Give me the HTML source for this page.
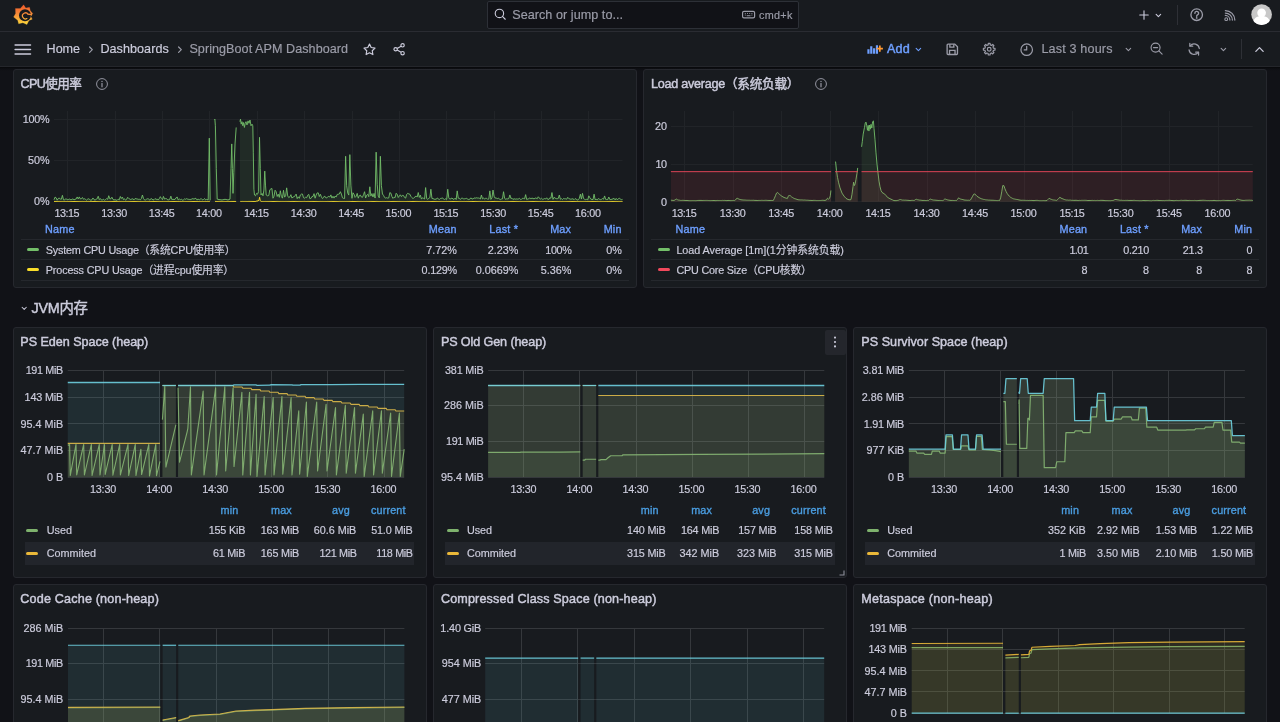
<!DOCTYPE html>
<html lang="zh"><head><meta charset="utf-8"><title>SpringBoot APM Dashboard - Grafana</title>
<style>
html,body{margin:0;padding:0}
body{width:1280px;height:722px;overflow:hidden;background:#111217;position:relative;font-family:"Liberation Sans","Noto Sans CJK SC",sans-serif;color:#ccccdc}
#root{position:absolute;left:0;top:0;width:1280px;height:722px;will-change:transform}
.t{position:absolute;white-space:nowrap}
.ic{position:absolute;overflow:visible}
.bar{position:absolute;left:0;width:1280px;background:#181b1f}
.hl{position:absolute;left:0;width:1280px;height:1px;background:#2a2c32}
.panel{position:absolute;box-sizing:border-box;background:#181b1f;border:1px solid #26282e;border-radius:3px}
svg text{font-family:"Liberation Sans","Noto Sans CJK SC",sans-serif}
</style></head>
<body>
<div id="root">
<div class="bar" style="top:0;height:31px"></div>
<div class="bar" style="top:32px;height:34px"></div>
<div class="hl" style="top:31px"></div><div class="hl" style="top:66px;background:#24262b"></div><div class="hl" style="top:67px;height:4px;background:linear-gradient(#07080a,#0d0e12 40%,#111217)"></div>
<svg class="ic" style="left:11px;top:2px" width="24" height="26" viewBox="0 0 666 722" ><defs><linearGradient id="lg" gradientUnits="userSpaceOnUse" x1="0" y1="80" x2="0" y2="625"><stop offset="0" stop-color="#f1592a"/><stop offset="0.5" stop-color="#f7903a"/><stop offset="1" stop-color="#fbd83a"/></linearGradient></defs>
<path fill="url(#lg)" stroke="url(#lg)" stroke-width="6" stroke-linejoin="round" d="M350 78 L410 170 L514 148 L538 240 L604 322 L548 396 L590 476 L498 516 L442 628 L330 578 L212 604 L186 510 L72 420 L128 318 L122 182 L258 180 Z"/>
<circle cx="388" cy="366" r="166" fill="#181b1f"/>
<path fill="none" stroke="url(#lg)" stroke-width="34" stroke-linecap="round" d="M476.2 346.6 A84 84 0 1 0 441.4 460.2"/>
<path fill="none" stroke="url(#lg)" stroke-width="40" stroke-linecap="butt" d="M476 336 L580 352"/></svg>
<div style="position:absolute;left:487px;top:1px;width:309.8px;height:25.6px;background:#111217;border:1px solid #2d3037;border-radius:2px;box-sizing:content-box"></div>
<svg class="ic" style="left:493.1px;top:7.2px" width="14" height="14" viewBox="0 0 24 24" ><circle cx="11" cy="11" r="7.2" fill="none" stroke="#ccccdc" stroke-width="1.9"/><path d="M16.2 16.2 L21 21" stroke="#ccccdc" stroke-width="1.9" stroke-linecap="round"/></svg>
<div class="t" style="top:6.8px;font-size:12.6px;color:#9b9ca8;line-height:16px;height:16px;-webkit-text-stroke:0.18px #9b9ca8;letter-spacing:0.05px;left:512.2px;">Search or jump to...</div>
<svg class="ic" style="left:740.5px;top:7.2px" width="15.2" height="15.2" viewBox="0 0 24 24" ><rect x="2.5" y="6.8" width="19" height="10.4" rx="2.2" fill="none" stroke="#9b9ca8" stroke-width="1.9"/><path d="M6 10.2h1.5M9.5 10.2h1.5M13 10.2h1.5M16.5 10.2h1.5M6 12.8h1.5M16.5 12.8h1.5M9 13.8h6" stroke="#9b9ca8" stroke-width="1.5"/></svg>
<div class="t" style="top:6.9px;font-size:10.8px;color:#9b9ca8;line-height:16px;height:16px;-webkit-text-stroke:0.18px #9b9ca8;letter-spacing:0.32px;left:759px;">cmd+k</div>
<svg class="ic" style="left:1138.3px;top:8.6px" width="12" height="12" viewBox="0 0 24 24" ><path d="M12 3.5v17M3.5 12h17" stroke="#ccccdc" stroke-width="2.2" stroke-linecap="round"/></svg>
<svg class="ic" style="left:1155.3px;top:11.6px" width="6.8" height="6.8" viewBox="0 0 24 24" ><path d="M4 8.5l8 8 8-8" fill="none" stroke="#ccccdc" stroke-width="3.8" stroke-linecap="round" stroke-linejoin="round"/></svg>
<div style="position:absolute;left:1176.5px;top:5px;width:1px;height:20px;background:#2e3036"></div>
<svg class="ic" style="left:1188.9px;top:7.3px" width="15.4" height="15.4" viewBox="0 0 24 24" ><circle cx="12" cy="12" r="9" fill="none" stroke="#9b9ca8" stroke-width="2.1"/><path d="M9.2 9.8a2.9 2.9 0 1 1 4.1 2.6c-.9.45-1.3 1-1.3 1.9" fill="none" stroke="#9b9ca8" stroke-width="2.2" stroke-linecap="round"/><circle cx="12" cy="17.1" r="1.35" fill="#9b9ca8"/></svg>
<svg class="ic" style="left:1222.6px;top:9.2px" width="13.4" height="13.4" viewBox="0 0 24 24" ><circle cx="5.8" cy="18.2" r="2.5" fill="none" stroke="#9b9ca8" stroke-width="2"/><path d="M4.2 11.6a8.2 8.2 0 0 1 8.2 8.2M4.2 7.2a12.6 12.6 0 0 1 12.6 12.6M4.2 2.8a17 17 0 0 1 17 17" fill="none" stroke="#9b9ca8" stroke-width="2.2" stroke-linecap="round"/></svg>
<svg class="ic" style="left:1250.7px;top:4.2px" width="21.2" height="21.2" viewBox="0 0 22 22"><defs><clipPath id="av"><circle cx="11" cy="11" r="10.7"/></clipPath></defs><circle cx="11" cy="11" r="10.7" fill="#c8c8c8"/><g clip-path="url(#av)" fill="#fff"><circle cx="11" cy="9.2" r="4.5"/><path d="M11 12.4c-5 0-8.6 2.6-9.4 7.6v3h18.8v-3c-.8-5-4.4-7.6-9.4-7.6z"/></g></svg>
<svg class="ic" style="left:13px;top:42px" width="20" height="14" viewBox="0 0 20 14"><path d="M2.1 2.9h15.4M2.1 7.4h15.4M2.1 11.9h15.4" stroke="#ccccdc" stroke-width="1.5" stroke-linecap="round"/></svg>
<div class="t" style="top:41.2px;font-size:12.6px;color:#ccccdc;line-height:16px;height:16px;-webkit-text-stroke:0.18px #ccccdc;letter-spacing:-0.05px;left:46.6px;">Home</div>
<svg class="ic" style="left:87.6px;top:45.6px" width="5.6" height="7.2" viewBox="0 0 7 9" ><path d="M2 1.2l3.4 3.4L2 8" fill="none" stroke="#9b9ca8" stroke-width="1.5" stroke-linecap="round" stroke-linejoin="round"/></svg>
<div class="t" style="top:41.2px;font-size:12.6px;color:#ccccdc;line-height:16px;height:16px;-webkit-text-stroke:0.18px #ccccdc;letter-spacing:0.05px;left:100.4px;">Dashboards</div>
<svg class="ic" style="left:176.8px;top:45.6px" width="5.6" height="7.2" viewBox="0 0 7 9" ><path d="M2 1.2l3.4 3.4L2 8" fill="none" stroke="#9b9ca8" stroke-width="1.5" stroke-linecap="round" stroke-linejoin="round"/></svg>
<div class="t" style="top:41.2px;font-size:12.6px;color:#9b9ca8;line-height:16px;height:16px;-webkit-text-stroke:0.18px #9b9ca8;letter-spacing:0.05px;left:189.4px;">SpringBoot APM Dashboard</div>
<svg class="ic" style="left:362.3px;top:41.5px" width="15" height="15" viewBox="0 0 24 24" ><path d="M12 3.2l2.7 5.6 6.1.9-4.4 4.3 1 6.1-5.4-2.9-5.4 2.9 1-6.1L3.2 9.7l6.1-.9z" fill="none" stroke="#ccccdc" stroke-width="1.9" stroke-linejoin="round"/></svg>
<svg class="ic" style="left:391.8px;top:42px" width="14.5" height="14.5" viewBox="0 0 24 24" ><circle cx="17.5" cy="5.5" r="2.8" fill="none" stroke="#ccccdc" stroke-width="1.9"/><circle cx="6" cy="12" r="2.8" fill="none" stroke="#ccccdc" stroke-width="1.9"/><circle cx="17.5" cy="18.5" r="2.8" fill="none" stroke="#ccccdc" stroke-width="1.9"/><path d="M8.5 10.6l6.5-3.7M8.5 13.4l6.5 3.7" stroke="#ccccdc" stroke-width="1.9"/></svg>
<svg class="ic" style="left:866.6px;top:40.9px" width="17.4" height="15.8" viewBox="0 0 26 24" ><path d="M2 19.5V12.5M6.3 19.5V8M10.6 19.5V11M14.9 19.5V6.5" stroke="#6e9fff" stroke-width="3.3"/><path d="M19.3 7v9.4M14.6 11.7h9.4" stroke="#ff9830" stroke-width="2.6"/></svg>
<div class="t" style="top:41.2px;font-size:12.6px;color:#6e9fff;line-height:16px;height:16px;-webkit-text-stroke:0.45px #6e9fff;letter-spacing:0.15px;left:887px;">Add</div>
<svg class="ic" style="left:914.9px;top:46px" width="6.8" height="6.8" viewBox="0 0 24 24" ><path d="M4 8.5l8 8 8-8" fill="none" stroke="#6e9fff" stroke-width="3.8" stroke-linecap="round" stroke-linejoin="round"/></svg>
<svg class="ic" style="left:944.8px;top:41.8px" width="14.6" height="14.6" viewBox="0 0 24 24" ><path d="M5 3.5h11.2L20.5 7.8V19a1.5 1.5 0 0 1-1.5 1.5H5A1.5 1.5 0 0 1 3.5 19V5A1.5 1.5 0 0 1 5 3.5z" fill="none" stroke="#9b9ca8" stroke-width="2.2" stroke-linejoin="round"/><path d="M8 3.8v4.7h6.5V3.8M7.5 20.2v-6.4h9v6.4" fill="none" stroke="#9b9ca8" stroke-width="2.2"/></svg>
<svg class="ic" style="left:982.3px;top:41.9px" width="14.4" height="14.4" viewBox="0 0 24 24" ><circle cx="12" cy="12" r="3.1" fill="none" stroke="#9b9ca8" stroke-width="2"/><path d="M10.27 4.80 L10.54 2.31 L13.46 2.31 L13.73 4.80 L15.87 5.69 L17.82 4.12 L19.88 6.18 L18.31 8.13 L19.20 10.27 L21.69 10.54 L21.69 13.46 L19.20 13.73 L18.31 15.87 L19.88 17.82 L17.82 19.88 L15.87 18.31 L13.73 19.20 L13.46 21.69 L10.54 21.69 L10.27 19.20 L8.13 18.31 L6.18 19.88 L4.12 17.82 L5.69 15.87 L4.80 13.73 L2.31 13.46 L2.31 10.54 L4.80 10.27 L5.69 8.13 L4.12 6.18 L6.18 4.12 L8.13 5.69 Z" fill="none" stroke="#9b9ca8" stroke-width="2" stroke-linejoin="round"/></svg>
<svg class="ic" style="left:1018.9px;top:41.7px" width="15.4" height="15.4" viewBox="0 0 24 24" ><circle cx="12" cy="12" r="9" fill="none" stroke="#9b9ca8" stroke-width="1.9"/><path d="M12 6.8V12.3H8.2" fill="none" stroke="#9b9ca8" stroke-width="1.9" stroke-linecap="round" stroke-linejoin="round"/></svg>
<div class="t" style="top:41.2px;font-size:12.6px;color:#9b9ca8;line-height:16px;height:16px;-webkit-text-stroke:0.18px #9b9ca8;letter-spacing:0.16px;left:1041.4px;">Last 3 hours</div>
<svg class="ic" style="left:1124.7px;top:46px" width="6.8" height="6.8" viewBox="0 0 24 24" ><path d="M4 8.5l8 8 8-8" fill="none" stroke="#9b9ca8" stroke-width="3.8" stroke-linecap="round" stroke-linejoin="round"/></svg>
<svg class="ic" style="left:1148.9px;top:41.2px" width="15" height="15" viewBox="0 0 24 24" ><circle cx="10.5" cy="10.5" r="7.2" fill="none" stroke="#9b9ca8" stroke-width="1.8"/><path d="M15.8 15.8L21 21M7.2 10.5h6.6" stroke="#9b9ca8" stroke-width="1.8" stroke-linecap="round"/></svg>
<svg class="ic" style="left:1186.2px;top:40.8px" width="16.4" height="16.4" viewBox="0 0 24 24" ><path d="M19.5 11A7.6 7.6 0 0 0 6 7.2M4.5 13A7.6 7.6 0 0 0 18 16.8" fill="none" stroke="#9b9ca8" stroke-width="1.8" stroke-linecap="round"/><path d="M5.6 3.4v4.2h4.2M18.4 20.6v-4.2h-4.2" fill="none" stroke="#9b9ca8" stroke-width="1.8" stroke-linecap="round" stroke-linejoin="round"/></svg>
<svg class="ic" style="left:1219.7px;top:46px" width="6.8" height="6.8" viewBox="0 0 24 24" ><path d="M4 8.5l8 8 8-8" fill="none" stroke="#9b9ca8" stroke-width="3.8" stroke-linecap="round" stroke-linejoin="round"/></svg>
<div style="position:absolute;left:1241px;top:39px;width:1px;height:20px;background:#2e3036"></div>
<svg class="ic" style="left:1254.1px;top:44.2px" width="11" height="11" viewBox="0 0 24 24" ><path d="M4 16l8-8 8 8" fill="none" stroke="#ccccdc" stroke-width="2.8" stroke-linecap="round" stroke-linejoin="round"/></svg>
<div class="panel" style="left:12.6px;top:69.3px;width:624px;height:218.7px"></div>
<div class="panel" style="left:643.2px;top:69.3px;width:624px;height:218.7px"></div>
<div class="panel" style="left:12.6px;top:327.1px;width:414.3px;height:250.9px"></div>
<div class="panel" style="left:12.6px;top:584.4px;width:414.3px;height:150px"></div>
<div class="panel" style="left:432.8px;top:327.1px;width:414.3px;height:250.9px"></div>
<div class="panel" style="left:432.8px;top:584.4px;width:414.3px;height:150px"></div>
<div class="panel" style="left:853px;top:327.1px;width:414.3px;height:250.9px"></div>
<div class="panel" style="left:853px;top:584.4px;width:414.3px;height:150px"></div>
<div class="t" style="top:75.9px;font-size:12.6px;color:#ccccdc;line-height:16px;height:16px;-webkit-text-stroke:0.45px #ccccdc;letter-spacing:-0.6px;left:20.4px;">CPU使用率</div>
<svg class="ic" style="left:94.9px;top:76.9px" width="14" height="14" viewBox="0 0 24 24" ><circle cx="12" cy="12" r="9.3" fill="none" stroke="#9b9ca8" stroke-width="1.6"/><path d="M12 11.2v5.6" stroke="#9b9ca8" stroke-width="2" stroke-linecap="round"/><circle cx="12" cy="7.8" r="1.2" fill="#9b9ca8"/></svg>
<div class="t" style="top:75.9px;font-size:12.6px;color:#ccccdc;line-height:16px;height:16px;-webkit-text-stroke:0.45px #ccccdc;letter-spacing:-0.25px;left:651px;">Load average（系统负载）</div>
<svg class="ic" style="left:814.3px;top:76.9px" width="14" height="14" viewBox="0 0 24 24" ><circle cx="12" cy="12" r="9.3" fill="none" stroke="#9b9ca8" stroke-width="1.6"/><path d="M12 11.2v5.6" stroke="#9b9ca8" stroke-width="2" stroke-linecap="round"/><circle cx="12" cy="7.8" r="1.2" fill="#9b9ca8"/></svg>
<svg class="ic" style="left:21.4px;top:305.4px" width="6.4" height="6.4" viewBox="0 0 24 24" ><path d="M4 8.5l8 8 8-8" fill="none" stroke="#ccccdc" stroke-width="3.8" stroke-linecap="round" stroke-linejoin="round"/></svg>
<div class="t" style="top:299.8px;font-size:14.4px;color:#ccccdc;line-height:16px;height:16px;-webkit-text-stroke:0.45px #ccccdc;letter-spacing:-0.3px;left:31.6px;">JVM内存</div>
<div class="t" style="top:333.5px;font-size:12.6px;color:#ccccdc;line-height:16px;height:16px;-webkit-text-stroke:0.45px #ccccdc;letter-spacing:-0.046px;left:20.3px;">PS Eden Space (heap)</div>
<div class="t" style="top:333.5px;font-size:12.6px;color:#ccccdc;line-height:16px;height:16px;-webkit-text-stroke:0.45px #ccccdc;letter-spacing:-0.11px;left:440.9px;">PS Old Gen (heap)</div>
<div class="t" style="top:333.5px;font-size:12.6px;color:#ccccdc;line-height:16px;height:16px;-webkit-text-stroke:0.45px #ccccdc;letter-spacing:0.03px;left:861.3px;">PS Survivor Space (heap)</div>
<div class="t" style="top:591px;font-size:12.6px;color:#ccccdc;line-height:16px;height:16px;-webkit-text-stroke:0.45px #ccccdc;letter-spacing:0.175px;left:20.3px;">Code Cache (non-heap)</div>
<div class="t" style="top:591px;font-size:12.6px;color:#ccccdc;line-height:16px;height:16px;-webkit-text-stroke:0.45px #ccccdc;letter-spacing:0.15px;left:440.9px;">Compressed Class Space (non-heap)</div>
<div class="t" style="top:591px;font-size:12.6px;color:#ccccdc;line-height:16px;height:16px;-webkit-text-stroke:0.45px #ccccdc;letter-spacing:0.24px;left:861.3px;">Metaspace (non-heap)</div>
<div style="position:absolute;left:825px;top:329.5px;width:20.5px;height:25px;background:#24262c;border-radius:2px"></div>
<svg class="ic" style="left:831px;top:335px" width="8" height="14" viewBox="0 0 8 14"><circle cx="4" cy="2.6" r="1.05" fill="#ccccdc"/><circle cx="4" cy="7" r="1.05" fill="#ccccdc"/><circle cx="4" cy="11.4" r="1.05" fill="#ccccdc"/></svg>
<svg class="ic" style="left:838.5px;top:569.5px" width="6" height="6" viewBox="0 0 6 6"><path d="M5 0.5V5H0.5" fill="none" stroke="#8d8e9a" stroke-width="1.1"/></svg>
<svg class="ic" style="left:0;top:0" width="1280" height="722" viewBox="0 0 1280 722" font-family='&quot;Liberation Sans&quot;,&quot;Noto Sans CJK SC&quot;,sans-serif'>
<g><line x1="67.5" y1="111" x2="67.5" y2="201.6" stroke="#212428" stroke-width="1"/>
<line x1="115.5" y1="111" x2="115.5" y2="201.6" stroke="#212428" stroke-width="1"/>
<line x1="162.5" y1="111" x2="162.5" y2="201.6" stroke="#212428" stroke-width="1"/>
<line x1="209.5" y1="111" x2="209.5" y2="201.6" stroke="#212428" stroke-width="1"/>
<line x1="257.5" y1="111" x2="257.5" y2="201.6" stroke="#212428" stroke-width="1"/>
<line x1="304.5" y1="111" x2="304.5" y2="201.6" stroke="#212428" stroke-width="1"/>
<line x1="352.5" y1="111" x2="352.5" y2="201.6" stroke="#212428" stroke-width="1"/>
<line x1="399.5" y1="111" x2="399.5" y2="201.6" stroke="#212428" stroke-width="1"/>
<line x1="446.5" y1="111" x2="446.5" y2="201.6" stroke="#212428" stroke-width="1"/>
<line x1="494.5" y1="111" x2="494.5" y2="201.6" stroke="#212428" stroke-width="1"/>
<line x1="541.5" y1="111" x2="541.5" y2="201.6" stroke="#212428" stroke-width="1"/>
<line x1="588.5" y1="111" x2="588.5" y2="201.6" stroke="#212428" stroke-width="1"/>
<line x1="54" y1="201.5" x2="622.5" y2="201.5" stroke="#212428" stroke-width="1"/>
<line x1="54" y1="160.5" x2="622.5" y2="160.5" stroke="#212428" stroke-width="1"/>
<line x1="54" y1="119.5" x2="622.5" y2="119.5" stroke="#212428" stroke-width="1"/>
<path d="M54 199.69 L55.05 197.11 L56.11 197.74 L57.16 200.21 L58.21 198.58 L59.26 197.95 L60.32 199.14 L61.37 199.24 L62.42 195.33 L63.48 199.76 L64.53 200.07 L65.58 198.8 L66.63 199.23 L67.69 199.61 L68.74 199.4 L69.79 199.05 L70.84 199.71 L71.9 199.46 L72.95 198.84 L74 199.84 L75.06 199.33 L76.11 198.96 L77.16 196.95 L78.21 198.91 L79.27 196.92 L80.32 198.9 L81.37 198.69 L82.42 197.48 L83.48 199.23 L84.53 198.76 L85.58 199.42 L86.64 200.17 L87.69 199.11 L88.74 198.79 L89.79 199.58 L90.85 200.24 L91.9 199.76 L92.95 197.97 L94.01 199.57 L95.06 200.14 L96.11 199.29 L97.16 198.8 L98.22 196.24 L99.27 199.63 L100.32 198.55 L101.38 199.96 L102.43 199.86 L103.48 199.21 L104.53 200.27 L105.59 199.61 L106.64 198.55 L107.69 199.35 L108.74 195.72 L109.8 198.87 L110.85 198.84 L111.9 197.21 L112.96 199.39 L114.01 199.99 L115.06 199.63 L116.11 200.1 L117.17 200.24 L118.22 199.17 L119.27 199.82 L120.33 196.47 L121.38 198.48 L122.43 197.07 L123.48 199.66 L124.54 198.78 L125.59 200.24 L126.64 199.32 L127.69 197.34 L128.75 198.51 L129.8 199.02 L130.85 199.62 L131.91 198.88 L132.96 198.87 L134.01 199.88 L135.06 198.5 L136.12 198.82 L137.17 198.94 L138.22 199.34 L139.28 199.19 L140.33 199.81 L141.38 198.55 L142.43 195.01 L143.49 198.55 L144.54 199.88 L145.59 199.93 L146.64 199.15 L147.7 198.76 L148.75 199.1 L149.8 200.13 L150.86 198.63 L151.91 198.92 L152.96 199.96 L154.01 199.68 L155.07 198.52 L156.12 199.55 L157.17 198.97 L158.22 200.05 L159.28 198.64 L160.33 196.66 L161.38 198.5 L162.44 199.65 L163.49 196.44 L164.54 199.1 L165.59 198.59 L166.65 198.7 L167.7 199.9 L168.75 199.75 L169.81 199.22 L170.86 196.15 L171.91 199.64 L172.96 199.22 L174.02 199.52 L175.07 199.37 L176.12 197.7 L177.18 196.99 L178.23 199.97 L179.28 198.97 L180.33 199.69 L181.39 199.27 L182.44 200.09 L183.49 199.83 L184.54 198.88 L185.6 199.26 L186.65 198.63 L187.7 199.17 L188.76 199.35 L189.81 199.46 L190.86 199.42 L191.91 199.01 L192.97 198.57 L194.02 199.27 L195.07 198.31 L196.12 198.59 L197.18 200.15 L198.23 198.86 L199.28 200 L200.34 199.08 L201.39 198.68 L202.44 199.88 L203.49 199.56 L204.55 198.49 L205.6 199.99 L206.65 199.35 L208.2 199.95 L209.3 138.15 L210.2 200.36 L210.2 201.6 L54 201.6 Z" fill="#73BF69" fill-opacity="0.1" stroke="none"/>
<path d="M214.4 120.02 L214.9 119.2 L215.4 125.79 L216.3 168.64 L217.2 199.13 L219 199.54 L222 199.95 L225 199.29 L228 199.95 L230 199.13 L231 168.64 L231.75 143.92 L232.4 168.64 L233 193.36 L233.8 172.76 L235 143.92 L236.2 127.44 L236.2 201.6 L214.4 201.6 Z" fill="#73BF69" fill-opacity="0.1" stroke="none"/>
<path d="M239.9 121.67 L240.5 119.2 L241.2 124.14 L242 121.67 L242.8 125.79 L243.6 122.5 L244.4 127.44 L245.2 123.32 L246 121.67 L247 124.97 L248 120.85 L249 123.32 L250 120.02 L251 125.79 L252 124.14 L252.8 125.79 L253.3 152.16 L253.9 189.24 L254.5 195.01 L255.5 195.83 L256.5 193.36 L257.5 194.18 L258.6 191.71 L259.5 137.33 L260.3 168.64 L261 195.01 L262 193.36 L263 195.83 L263.9 190.06 L264.75 171.11 L265.5 185.12 L266.2 195.01 L267.71 195.87 L268.77 195.47 L269.82 189.79 L270.87 188.95 L271.93 188.48 L272.98 198.23 L274.03 196.24 L275.08 190.22 L276.14 191.69 L277.19 196.48 L278.24 194.14 L279.29 197.36 L280.35 190.75 L281.4 196.47 L282.45 198.15 L283.51 190.26 L284.56 197.15 L285.61 195.89 L286.66 187.85 L287.72 195.97 L288.77 197.64 L289.82 196.89 L290.88 194.68 L291.93 198.09 L292.98 196.99 L294.03 196.79 L295.09 195.81 L296.14 194.08 L297.19 198.62 L298.24 196.79 L299.3 198.32 L300.35 194.98 L301.4 194.09 L302.46 194.02 L303.51 197.7 L304.56 198.16 L305.61 197.26 L306.67 197.69 L307.72 195.21 L308.77 194.39 L309.82 198.59 L310.88 198.44 L311.93 196.57 L312.98 196.54 L314.04 193.63 L315.09 198.23 L316.14 195.11 L317.19 192.91 L318.25 192.83 L319.3 196.57 L320.35 194.28 L321.41 196.85 L322.46 198.59 L323.51 197.64 L324.56 195.95 L325.62 197.62 L326.67 197.99 L327.72 196.78 L328.77 196.39 L329.83 196.97 L330.88 194.89 L331.93 198.09 L332.99 196.27 L334.04 198.11 L335.09 196.08 L336.14 197.01 L337.2 194.42 L338.25 194.26 L339.3 194 L340.36 191.71 L341.41 194.06 L342.46 197.74 L343.51 198.37 L344.57 198.48 L345.62 156.28 L346.67 185.74 L347.73 193.02 L348.78 195.09 L349.83 154.63 L350.88 185.16 L351.94 198.31 L352.99 192.78 L354.04 194.27 L355.09 197.42 L356.15 196.3 L357.2 193.36 L358.25 198.2 L359.31 195.68 L360.36 195.07 L361.41 197.02 L362.46 197.35 L363.52 194.7 L364.57 191.71 L365.62 198.04 L366.68 195.22 L367.73 194.23 L368.78 196.7 L369.83 186.77 L370.89 196.08 L371.94 193.55 L372.99 197.03 L374.04 193.37 L375.1 198.04 L376.15 152.16 L377.2 184.3 L378.26 196.12 L379.31 197.85 L380.36 156.28 L381.41 185.74 L382.47 194.03 L383.52 195.38 L384.57 197.43 L385.62 198.04 L386.68 197.69 L387.73 198.12 L388.78 197.89 L389.84 192.54 L390.89 193.16 L391.94 196.59 L392.99 198.39 L394.05 197.21 L395.1 197.55 L396.15 193.26 L397.21 194.34 L398.26 197.5 L399.31 196.04 L400.36 194.8 L401.42 196.63 L402.47 195.33 L403.52 195.57 L404.57 197.46 L405.63 198.12 L406.68 194.34 L407.73 193.33 L408.79 193.86 L409.84 194.2 L410.89 196.36 L411.94 197.45 L413 198.71 L414.05 197.53 L415.1 197 L416.16 195.91 L417.21 197.06 L418.26 192.54 L419.31 197.42 L420.37 195.15 L421.42 199.08 L422.47 197.76 L423.52 198.34 L424.58 198.98 L425.63 187.59 L426.68 198.61 L427.74 199.3 L428.79 198.35 L429.84 197.57 L430.89 189.24 L431.95 198.47 L433 198.41 L434.05 199.3 L435.11 199.1 L436.16 199.37 L437.21 197.96 L438.26 198.81 L439.32 199.52 L440.37 198.52 L441.42 198.37 L442.48 197.84 L443.53 199.09 L444.58 199.46 L445.63 198.8 L446.69 199.43 L447.74 189.24 L448.79 197.83 L449.84 199.18 L450.9 198.62 L451.95 198.07 L453 198.98 L454.06 199.45 L455.11 198.12 L456.16 199.53 L457.21 190.89 L458.27 198.2 L459.32 198.27 L460.37 199.47 L461.43 198.18 L462.48 198.01 L463.53 199.06 L464.58 198.75 L465.64 198.59 L466.69 198.38 L467.74 199.15 L468.79 199.51 L469.85 199.11 L470.9 197.83 L471.95 198.95 L473.01 198.94 L474.06 197.89 L475.11 198.28 L476.16 197.77 L477.22 198.02 L478.27 197.99 L479.32 198.23 L480.38 198.98 L481.43 195.03 L482.48 198.88 L483.53 197.86 L484.59 199.13 L485.64 198.28 L486.69 198.28 L487.74 199.42 L488.8 198.88 L489.85 190.89 L490.9 199.42 L491.96 197.88 L493.01 190.06 L494.06 196.19 L495.11 198.07 L496.17 198.04 L497.22 198.66 L498.27 198.17 L499.32 198.96 L500.38 199.5 L501.43 199.03 L502.48 198.87 L503.54 191.71 L504.59 198 L505.64 199.48 L506.69 198.75 L507.75 198.91 L508.8 198.56 L509.85 194.94 L510.91 198.48 L511.96 198.16 L513.01 199.53 L514.06 198.65 L515.12 199.21 L516.17 198.91 L517.22 199.07 L518.27 199.03 L519.33 198.27 L520.38 199.34 L521.43 199.39 L522.49 198.28 L523.54 198.4 L524.59 198.81 L525.64 194.63 L526.7 199.49 L527.75 199.06 L528.8 198.63 L529.86 197.94 L530.91 198.7 L531.96 198.17 L533.01 198.37 L534.07 198.95 L535.12 198.01 L536.17 198.19 L537.23 198.74 L538.28 196.78 L539.33 197.94 L540.38 199.19 L541.44 198.27 L542.49 199.26 L543.54 199.09 L544.59 198.59 L545.65 198.95 L546.7 197.77 L547.75 199.36 L548.81 199.36 L549.86 197.76 L550.91 198.21 L551.96 192.54 L553.02 199.35 L554.07 197.36 L555.12 198.11 L556.17 198.63 L557.23 198.7 L558.28 198.45 L559.33 195.01 L560.39 199.25 L561.44 198.68 L562.49 199.62 L563.54 198.44 L564.6 198.77 L565.65 198.8 L566.7 199.21 L567.76 197.34 L568.81 198.62 L569.86 198.89 L570.91 199.27 L571.97 198.91 L573.02 198.81 L574.07 199.7 L575.12 198.62 L576.18 199.15 L577.23 199.97 L578.28 199.74 L579.34 198.33 L580.39 194.18 L581.44 199.05 L582.49 193.36 L583.55 198.53 L584.6 199.29 L585.65 199.65 L586.71 199.32 L587.76 199.81 L588.81 195.83 L589.86 197.76 L590.92 199.27 L591.97 199.4 L593.02 199.63 L594.08 194.18 L595.13 199.64 L596.18 199.32 L597.23 199.8 L598.29 198.57 L599.34 199.18 L600.39 199.62 L601.44 199.39 L602.5 198.55 L603.55 199.19 L604.6 195.95 L605.66 199.39 L606.71 199.55 L607.76 199.57 L608.81 197.02 L609.87 199.52 L610.92 199.49 L611.97 199.26 L613.02 198.84 L614.08 198.35 L615.13 199.93 L616.18 198.39 L617.24 199.78 L618.29 198.84 L619.34 198.31 L620.39 199.05 L621.45 199.61 L622.5 199.41 L622.5 201.6 L239.9 201.6 Z" fill="#73BF69" fill-opacity="0.1" stroke="none"/>
<path d="M54 199.69 L55.05 197.11 L56.11 197.74 L57.16 200.21 L58.21 198.58 L59.26 197.95 L60.32 199.14 L61.37 199.24 L62.42 195.33 L63.48 199.76 L64.53 200.07 L65.58 198.8 L66.63 199.23 L67.69 199.61 L68.74 199.4 L69.79 199.05 L70.84 199.71 L71.9 199.46 L72.95 198.84 L74 199.84 L75.06 199.33 L76.11 198.96 L77.16 196.95 L78.21 198.91 L79.27 196.92 L80.32 198.9 L81.37 198.69 L82.42 197.48 L83.48 199.23 L84.53 198.76 L85.58 199.42 L86.64 200.17 L87.69 199.11 L88.74 198.79 L89.79 199.58 L90.85 200.24 L91.9 199.76 L92.95 197.97 L94.01 199.57 L95.06 200.14 L96.11 199.29 L97.16 198.8 L98.22 196.24 L99.27 199.63 L100.32 198.55 L101.38 199.96 L102.43 199.86 L103.48 199.21 L104.53 200.27 L105.59 199.61 L106.64 198.55 L107.69 199.35 L108.74 195.72 L109.8 198.87 L110.85 198.84 L111.9 197.21 L112.96 199.39 L114.01 199.99 L115.06 199.63 L116.11 200.1 L117.17 200.24 L118.22 199.17 L119.27 199.82 L120.33 196.47 L121.38 198.48 L122.43 197.07 L123.48 199.66 L124.54 198.78 L125.59 200.24 L126.64 199.32 L127.69 197.34 L128.75 198.51 L129.8 199.02 L130.85 199.62 L131.91 198.88 L132.96 198.87 L134.01 199.88 L135.06 198.5 L136.12 198.82 L137.17 198.94 L138.22 199.34 L139.28 199.19 L140.33 199.81 L141.38 198.55 L142.43 195.01 L143.49 198.55 L144.54 199.88 L145.59 199.93 L146.64 199.15 L147.7 198.76 L148.75 199.1 L149.8 200.13 L150.86 198.63 L151.91 198.92 L152.96 199.96 L154.01 199.68 L155.07 198.52 L156.12 199.55 L157.17 198.97 L158.22 200.05 L159.28 198.64 L160.33 196.66 L161.38 198.5 L162.44 199.65 L163.49 196.44 L164.54 199.1 L165.59 198.59 L166.65 198.7 L167.7 199.9 L168.75 199.75 L169.81 199.22 L170.86 196.15 L171.91 199.64 L172.96 199.22 L174.02 199.52 L175.07 199.37 L176.12 197.7 L177.18 196.99 L178.23 199.97 L179.28 198.97 L180.33 199.69 L181.39 199.27 L182.44 200.09 L183.49 199.83 L184.54 198.88 L185.6 199.26 L186.65 198.63 L187.7 199.17 L188.76 199.35 L189.81 199.46 L190.86 199.42 L191.91 199.01 L192.97 198.57 L194.02 199.27 L195.07 198.31 L196.12 198.59 L197.18 200.15 L198.23 198.86 L199.28 200 L200.34 199.08 L201.39 198.68 L202.44 199.88 L203.49 199.56 L204.55 198.49 L205.6 199.99 L206.65 199.35 L208.2 199.95 L209.3 138.15 L210.2 200.36" fill="none" stroke="#73BF69" stroke-width="1" stroke-opacity="0.9" stroke-linejoin="round"/>
<path d="M214.4 120.02 L214.9 119.2 L215.4 125.79 L216.3 168.64 L217.2 199.13 L219 199.54 L222 199.95 L225 199.29 L228 199.95 L230 199.13 L231 168.64 L231.75 143.92 L232.4 168.64 L233 193.36 L233.8 172.76 L235 143.92 L236.2 127.44" fill="none" stroke="#73BF69" stroke-width="1" stroke-opacity="0.9" stroke-linejoin="round"/>
<path d="M239.9 121.67 L240.5 119.2 L241.2 124.14 L242 121.67 L242.8 125.79 L243.6 122.5 L244.4 127.44 L245.2 123.32 L246 121.67 L247 124.97 L248 120.85 L249 123.32 L250 120.02 L251 125.79 L252 124.14 L252.8 125.79 L253.3 152.16 L253.9 189.24 L254.5 195.01 L255.5 195.83 L256.5 193.36 L257.5 194.18 L258.6 191.71 L259.5 137.33 L260.3 168.64 L261 195.01 L262 193.36 L263 195.83 L263.9 190.06 L264.75 171.11 L265.5 185.12 L266.2 195.01 L267.71 195.87 L268.77 195.47 L269.82 189.79 L270.87 188.95 L271.93 188.48 L272.98 198.23 L274.03 196.24 L275.08 190.22 L276.14 191.69 L277.19 196.48 L278.24 194.14 L279.29 197.36 L280.35 190.75 L281.4 196.47 L282.45 198.15 L283.51 190.26 L284.56 197.15 L285.61 195.89 L286.66 187.85 L287.72 195.97 L288.77 197.64 L289.82 196.89 L290.88 194.68 L291.93 198.09 L292.98 196.99 L294.03 196.79 L295.09 195.81 L296.14 194.08 L297.19 198.62 L298.24 196.79 L299.3 198.32 L300.35 194.98 L301.4 194.09 L302.46 194.02 L303.51 197.7 L304.56 198.16 L305.61 197.26 L306.67 197.69 L307.72 195.21 L308.77 194.39 L309.82 198.59 L310.88 198.44 L311.93 196.57 L312.98 196.54 L314.04 193.63 L315.09 198.23 L316.14 195.11 L317.19 192.91 L318.25 192.83 L319.3 196.57 L320.35 194.28 L321.41 196.85 L322.46 198.59 L323.51 197.64 L324.56 195.95 L325.62 197.62 L326.67 197.99 L327.72 196.78 L328.77 196.39 L329.83 196.97 L330.88 194.89 L331.93 198.09 L332.99 196.27 L334.04 198.11 L335.09 196.08 L336.14 197.01 L337.2 194.42 L338.25 194.26 L339.3 194 L340.36 191.71 L341.41 194.06 L342.46 197.74 L343.51 198.37 L344.57 198.48 L345.62 156.28 L346.67 185.74 L347.73 193.02 L348.78 195.09 L349.83 154.63 L350.88 185.16 L351.94 198.31 L352.99 192.78 L354.04 194.27 L355.09 197.42 L356.15 196.3 L357.2 193.36 L358.25 198.2 L359.31 195.68 L360.36 195.07 L361.41 197.02 L362.46 197.35 L363.52 194.7 L364.57 191.71 L365.62 198.04 L366.68 195.22 L367.73 194.23 L368.78 196.7 L369.83 186.77 L370.89 196.08 L371.94 193.55 L372.99 197.03 L374.04 193.37 L375.1 198.04 L376.15 152.16 L377.2 184.3 L378.26 196.12 L379.31 197.85 L380.36 156.28 L381.41 185.74 L382.47 194.03 L383.52 195.38 L384.57 197.43 L385.62 198.04 L386.68 197.69 L387.73 198.12 L388.78 197.89 L389.84 192.54 L390.89 193.16 L391.94 196.59 L392.99 198.39 L394.05 197.21 L395.1 197.55 L396.15 193.26 L397.21 194.34 L398.26 197.5 L399.31 196.04 L400.36 194.8 L401.42 196.63 L402.47 195.33 L403.52 195.57 L404.57 197.46 L405.63 198.12 L406.68 194.34 L407.73 193.33 L408.79 193.86 L409.84 194.2 L410.89 196.36 L411.94 197.45 L413 198.71 L414.05 197.53 L415.1 197 L416.16 195.91 L417.21 197.06 L418.26 192.54 L419.31 197.42 L420.37 195.15 L421.42 199.08 L422.47 197.76 L423.52 198.34 L424.58 198.98 L425.63 187.59 L426.68 198.61 L427.74 199.3 L428.79 198.35 L429.84 197.57 L430.89 189.24 L431.95 198.47 L433 198.41 L434.05 199.3 L435.11 199.1 L436.16 199.37 L437.21 197.96 L438.26 198.81 L439.32 199.52 L440.37 198.52 L441.42 198.37 L442.48 197.84 L443.53 199.09 L444.58 199.46 L445.63 198.8 L446.69 199.43 L447.74 189.24 L448.79 197.83 L449.84 199.18 L450.9 198.62 L451.95 198.07 L453 198.98 L454.06 199.45 L455.11 198.12 L456.16 199.53 L457.21 190.89 L458.27 198.2 L459.32 198.27 L460.37 199.47 L461.43 198.18 L462.48 198.01 L463.53 199.06 L464.58 198.75 L465.64 198.59 L466.69 198.38 L467.74 199.15 L468.79 199.51 L469.85 199.11 L470.9 197.83 L471.95 198.95 L473.01 198.94 L474.06 197.89 L475.11 198.28 L476.16 197.77 L477.22 198.02 L478.27 197.99 L479.32 198.23 L480.38 198.98 L481.43 195.03 L482.48 198.88 L483.53 197.86 L484.59 199.13 L485.64 198.28 L486.69 198.28 L487.74 199.42 L488.8 198.88 L489.85 190.89 L490.9 199.42 L491.96 197.88 L493.01 190.06 L494.06 196.19 L495.11 198.07 L496.17 198.04 L497.22 198.66 L498.27 198.17 L499.32 198.96 L500.38 199.5 L501.43 199.03 L502.48 198.87 L503.54 191.71 L504.59 198 L505.64 199.48 L506.69 198.75 L507.75 198.91 L508.8 198.56 L509.85 194.94 L510.91 198.48 L511.96 198.16 L513.01 199.53 L514.06 198.65 L515.12 199.21 L516.17 198.91 L517.22 199.07 L518.27 199.03 L519.33 198.27 L520.38 199.34 L521.43 199.39 L522.49 198.28 L523.54 198.4 L524.59 198.81 L525.64 194.63 L526.7 199.49 L527.75 199.06 L528.8 198.63 L529.86 197.94 L530.91 198.7 L531.96 198.17 L533.01 198.37 L534.07 198.95 L535.12 198.01 L536.17 198.19 L537.23 198.74 L538.28 196.78 L539.33 197.94 L540.38 199.19 L541.44 198.27 L542.49 199.26 L543.54 199.09 L544.59 198.59 L545.65 198.95 L546.7 197.77 L547.75 199.36 L548.81 199.36 L549.86 197.76 L550.91 198.21 L551.96 192.54 L553.02 199.35 L554.07 197.36 L555.12 198.11 L556.17 198.63 L557.23 198.7 L558.28 198.45 L559.33 195.01 L560.39 199.25 L561.44 198.68 L562.49 199.62 L563.54 198.44 L564.6 198.77 L565.65 198.8 L566.7 199.21 L567.76 197.34 L568.81 198.62 L569.86 198.89 L570.91 199.27 L571.97 198.91 L573.02 198.81 L574.07 199.7 L575.12 198.62 L576.18 199.15 L577.23 199.97 L578.28 199.74 L579.34 198.33 L580.39 194.18 L581.44 199.05 L582.49 193.36 L583.55 198.53 L584.6 199.29 L585.65 199.65 L586.71 199.32 L587.76 199.81 L588.81 195.83 L589.86 197.76 L590.92 199.27 L591.97 199.4 L593.02 199.63 L594.08 194.18 L595.13 199.64 L596.18 199.32 L597.23 199.8 L598.29 198.57 L599.34 199.18 L600.39 199.62 L601.44 199.39 L602.5 198.55 L603.55 199.19 L604.6 195.95 L605.66 199.39 L606.71 199.55 L607.76 199.57 L608.81 197.02 L609.87 199.52 L610.92 199.49 L611.97 199.26 L613.02 198.84 L614.08 198.35 L615.13 199.93 L616.18 198.39 L617.24 199.78 L618.29 198.84 L619.34 198.31 L620.39 199.05 L621.45 199.61 L622.5 199.41" fill="none" stroke="#73BF69" stroke-width="1" stroke-opacity="0.9" stroke-linejoin="round"/>
<path d="M54 201.44 L55.05 201.45 L56.11 201.49 L57.16 201.44 L58.21 201.46 L59.26 201.45 L60.32 201.46 L61.37 201.44 L62.42 201.45 L63.48 201.45 L64.53 201.49 L65.58 201.46 L66.63 201.47 L67.69 201.45 L68.74 201.47 L69.79 201.44 L70.84 201.46 L71.9 201.48 L72.95 201.49 L74 201.49 L75.06 201.47 L76.11 201.5 L77.16 201.47 L78.21 201.49 L79.27 201.47 L80.32 201.47 L81.37 201.47 L82.42 201.44 L83.48 201.5 L84.53 201.45 L85.58 201.47 L86.64 201.46 L87.69 201.46 L88.74 201.45 L89.79 201.48 L90.85 201.47 L91.9 201.44 L92.95 201.5 L94.01 201.46 L95.06 201.46 L96.11 201.5 L97.16 201.46 L98.22 201.46 L99.27 201.44 L100.32 201.48 L101.38 201.44 L102.43 201.47 L103.48 201.47 L104.53 201.44 L105.59 201.5 L106.64 201.45 L107.69 201.46 L108.74 201.48 L109.8 201.44 L110.85 201.48 L111.9 201.47 L112.96 201.47 L114.01 201.45 L115.06 201.49 L116.11 201.47 L117.17 201.47 L118.22 201.46 L119.27 201.45 L120.33 201.48 L121.38 201.45 L122.43 201.47 L123.48 201.47 L124.54 201.48 L125.59 201.47 L126.64 201.44 L127.69 201.46 L128.75 201.45 L129.8 201.48 L130.85 201.48 L131.91 201.48 L132.96 201.46 L134.01 201.46 L135.06 201.45 L136.12 201.5 L137.17 201.45 L138.22 201.44 L139.28 201.47 L140.33 201.5 L141.38 201.48 L142.43 201.5 L143.49 201.49 L144.54 201.44 L145.59 201.46 L146.64 201.46 L147.7 201.45 L148.75 201.44 L149.8 201.46 L150.86 201.46 L151.91 201.46 L152.96 201.46 L154.01 201.46 L155.07 201.46 L156.12 201.49 L157.17 201.46 L158.22 201.47 L159.28 201.45 L160.33 201.49 L161.38 201.49 L162.44 201.5 L163.49 201.45 L164.54 201.44 L165.59 201.46 L166.65 201.48 L167.7 201.45 L168.75 201.45 L169.81 201.46 L170.86 201.48 L171.91 201.48 L172.96 201.47 L174.02 201.48 L175.07 201.47 L176.12 201.46 L177.18 201.44 L178.23 201.5 L179.28 201.46 L180.33 201.5 L181.39 201.49 L182.44 201.45 L183.49 201.46 L184.54 201.44 L185.6 201.47 L186.65 201.5 L187.7 201.48 L188.76 201.46 L189.81 201.44 L190.86 201.44 L191.91 201.47 L192.97 201.47 L194.02 201.49 L195.07 201.46 L196.12 201.49 L197.18 201.49 L198.23 201.5 L199.28 201.5 L200.34 201.46 L201.39 201.49 L202.44 201.44 L203.49 201.5 L204.55 201.44 L205.6 201.49 L206.65 201.5 L207.71 201.45 L208.76 201.49 L209.81 201.45 L209.81 201.6 L54 201.6 Z" fill="#FADE2A" fill-opacity="0.1" stroke="none"/>
<path d="M215.07 201.44 L216.13 201.45 L217.18 201.5 L218.23 201.46 L219.29 201.45 L220.34 201.47 L221.39 201.44 L222.44 201.48 L223.5 201.44 L224.55 201.45 L225.6 201.5 L226.66 201.5 L227.71 201.46 L228.76 201.45 L229.81 201.5 L230.87 201.48 L231.92 201.45 L232.97 201.49 L234.03 201.44 L235.08 201.47 L236.13 201.5 L236.13 201.6 L215.07 201.6 Z" fill="#FADE2A" fill-opacity="0.1" stroke="none"/>
<path d="M240.34 201.46 L241.39 201.49 L242.45 201.45 L243.5 201.48 L244.55 201.46 L245.61 201.46 L246.66 201.47 L247.71 201.48 L248.76 201.45 L249.82 201.44 L250.87 201.45 L251.92 201.46 L252.97 201.48 L254.03 201.5 L255.08 201.44 L256 201.44 L257 200.78 L258 201.11 L259 199.95 L259.6 197.23 L260.2 200.36 L260.8 201.35 L261.4 201.45 L262.45 201.46 L263.5 201.48 L264.56 201.47 L265.61 201.44 L266.66 201.48 L267.71 201.46 L268.77 201.46 L269.82 201.44 L270.87 201.45 L271.93 201.48 L272.98 201.5 L274.03 201.48 L275.08 201.47 L276.14 201.46 L277.19 201.45 L278.24 201.44 L279.29 201.5 L280.35 201.45 L281.4 201.45 L282.45 201.44 L283.51 201.46 L284.56 201.48 L285.61 201.45 L286.66 201.45 L287.72 201.46 L288.77 201.44 L289.82 201.48 L290.88 201.5 L291.93 201.46 L292.98 201.45 L294.03 201.49 L295.09 201.45 L296.14 201.44 L297.19 201.49 L298.24 201.46 L299.3 201.46 L300.35 201.47 L301.4 201.49 L302.46 201.48 L303.51 201.45 L304.56 201.45 L305.61 201.47 L306.67 201.5 L307.72 201.45 L308.77 201.45 L309.82 201.49 L310.88 201.46 L311.93 201.44 L312.98 201.44 L314.04 201.47 L315.09 201.47 L316.14 201.46 L317.19 201.49 L318.25 201.49 L319.3 201.49 L320.35 201.45 L321.41 201.48 L322.46 201.46 L323.51 201.47 L324.56 201.47 L325.62 201.49 L326.67 201.5 L327.72 201.44 L328.77 201.48 L329.83 201.49 L330.88 201.46 L331.93 201.45 L332.99 201.49 L334.04 201.46 L335.09 201.48 L336.14 201.47 L337.2 201.5 L338.25 201.5 L339.3 201.44 L340.36 201.44 L341.41 201.47 L342.46 201.46 L343.51 201.48 L344.57 201.45 L345.62 201.47 L346.67 201.44 L347.73 201.45 L348.78 201.45 L349.83 201.44 L350.88 201.48 L351.94 201.5 L352.99 201.49 L354.04 201.49 L355.09 201.5 L356.15 201.5 L357.2 201.46 L358.25 201.44 L359.31 201.47 L360.36 201.44 L361.41 201.44 L362.46 201.5 L363.52 201.46 L364.57 201.47 L365.62 201.49 L366.68 201.44 L367.73 201.48 L368.78 201.46 L369.83 201.46 L370.89 201.44 L371.94 201.46 L372.99 201.48 L374.04 201.47 L375.1 201.49 L376.15 201.44 L377.2 201.44 L378.26 201.49 L379.31 201.5 L380.36 201.48 L381.41 201.48 L382.47 201.44 L383.52 201.44 L384.57 201.45 L385.62 201.5 L386.68 201.45 L387.73 201.45 L388.78 201.46 L389.84 201.44 L390.89 201.5 L391.94 201.49 L392.99 201.45 L394.05 201.44 L395.1 201.46 L396.15 201.48 L397.21 201.46 L398.26 201.45 L399.31 201.49 L400.36 201.48 L401.42 201.48 L402.47 201.49 L403.52 201.47 L404.57 201.49 L405.63 201.49 L406.68 201.49 L407.73 201.46 L408.79 201.5 L409.84 201.45 L410.89 201.49 L411.94 201.5 L413 201.44 L414.05 201.49 L415.1 201.44 L416.16 201.44 L417.21 201.44 L418.26 201.49 L419.31 201.47 L420.37 201.49 L421.42 201.44 L422.47 201.45 L423.52 201.46 L424.58 201.47 L425.63 201.48 L426.68 201.45 L427.74 201.47 L428.79 201.46 L429.84 201.49 L430.89 201.49 L431.95 201.5 L433 201.45 L434.05 201.46 L435.11 201.49 L436.16 201.44 L437.21 201.48 L438.26 201.47 L439.32 201.49 L440.37 201.48 L441.42 201.45 L442.48 201.48 L443.53 201.49 L444.58 201.47 L445.63 201.48 L446.69 201.44 L447.74 201.49 L448.79 201.44 L449.84 201.5 L450.9 201.44 L451.95 201.46 L453 201.49 L454.06 201.47 L455.11 201.48 L456.16 201.48 L457.21 201.49 L458.27 201.48 L459.32 201.44 L460.37 201.44 L461.43 201.44 L462.48 201.49 L463.53 201.48 L464.58 201.44 L465.64 201.5 L466.69 201.45 L467.74 201.48 L468.79 201.44 L469.85 201.5 L470.9 201.45 L471.95 201.48 L473.01 201.49 L474.06 201.5 L475.11 201.45 L476.16 201.47 L477.22 201.49 L478.27 201.47 L479.32 201.44 L480.38 201.49 L481.43 201.46 L482.48 201.49 L483.53 201.49 L484.59 201.45 L485.64 201.45 L486.69 201.49 L487.74 201.5 L488.8 201.5 L489.85 201.46 L490.9 201.47 L491.96 201.48 L493.01 201.49 L494.06 201.46 L495.11 201.45 L496.17 201.45 L497.22 201.46 L498.27 201.49 L499.32 201.5 L500.38 201.45 L501.43 201.47 L502.48 201.45 L503.54 201.5 L504.59 201.45 L505.64 201.48 L506.69 201.45 L507.75 201.44 L508.8 201.47 L509.85 201.5 L510.91 201.44 L511.96 201.47 L513.01 201.44 L514.06 201.48 L515.12 201.49 L516.17 201.45 L517.22 201.48 L518.27 201.49 L519.33 201.48 L520.38 201.46 L521.43 201.5 L522.49 201.47 L523.54 201.47 L524.59 201.47 L525.64 201.49 L526.7 201.45 L527.75 201.45 L528.8 201.44 L529.86 201.48 L530.91 201.45 L531.96 201.48 L533.01 201.45 L534.07 201.5 L535.12 201.44 L536.17 201.44 L537.23 201.47 L538.28 201.47 L539.33 201.47 L540.38 201.47 L541.44 201.5 L542.49 201.44 L543.54 201.49 L544.59 201.49 L545.65 201.49 L546.7 201.48 L547.75 201.45 L548.81 201.5 L549.86 201.49 L550.91 201.46 L551.96 201.49 L553.02 201.5 L554.07 201.46 L555.12 201.46 L556.17 201.47 L557.23 201.45 L558.28 201.49 L559.33 201.44 L560.39 201.45 L561.44 201.5 L562.49 201.49 L563.54 201.47 L564.6 201.47 L565.65 201.48 L566.7 201.49 L567.76 201.47 L568.81 201.49 L569.86 201.46 L570.91 201.44 L571.97 201.49 L573.02 201.46 L574.07 201.45 L575.12 201.49 L576.18 201.45 L577.23 201.44 L578.28 201.48 L579.34 201.47 L580.39 201.45 L581.44 201.47 L582.49 201.48 L583.55 201.44 L584.6 201.45 L585.65 201.48 L586.71 201.49 L587.76 201.48 L588.81 201.47 L589.86 201.44 L590.92 201.45 L591.97 201.44 L593.02 201.45 L594.08 201.45 L595.13 201.5 L596.18 201.47 L597.23 201.44 L598.29 201.44 L599.34 201.48 L600.39 201.47 L601.44 201.46 L602.5 201.48 L603.55 201.47 L604.6 201.5 L605.66 201.47 L606.71 201.47 L607.76 201.5 L608.81 201.49 L609.87 201.44 L610.92 201.45 L611.97 201.44 L613.02 201.46 L614.08 201.45 L615.13 201.44 L616.18 201.44 L617.24 201.5 L618.29 201.46 L619.34 201.48 L620.39 201.46 L621.45 201.48 L622.5 201.47 L622.5 201.6 L240.34 201.6 Z" fill="#FADE2A" fill-opacity="0.1" stroke="none"/>
<path d="M54 201.44 L55.05 201.45 L56.11 201.49 L57.16 201.44 L58.21 201.46 L59.26 201.45 L60.32 201.46 L61.37 201.44 L62.42 201.45 L63.48 201.45 L64.53 201.49 L65.58 201.46 L66.63 201.47 L67.69 201.45 L68.74 201.47 L69.79 201.44 L70.84 201.46 L71.9 201.48 L72.95 201.49 L74 201.49 L75.06 201.47 L76.11 201.5 L77.16 201.47 L78.21 201.49 L79.27 201.47 L80.32 201.47 L81.37 201.47 L82.42 201.44 L83.48 201.5 L84.53 201.45 L85.58 201.47 L86.64 201.46 L87.69 201.46 L88.74 201.45 L89.79 201.48 L90.85 201.47 L91.9 201.44 L92.95 201.5 L94.01 201.46 L95.06 201.46 L96.11 201.5 L97.16 201.46 L98.22 201.46 L99.27 201.44 L100.32 201.48 L101.38 201.44 L102.43 201.47 L103.48 201.47 L104.53 201.44 L105.59 201.5 L106.64 201.45 L107.69 201.46 L108.74 201.48 L109.8 201.44 L110.85 201.48 L111.9 201.47 L112.96 201.47 L114.01 201.45 L115.06 201.49 L116.11 201.47 L117.17 201.47 L118.22 201.46 L119.27 201.45 L120.33 201.48 L121.38 201.45 L122.43 201.47 L123.48 201.47 L124.54 201.48 L125.59 201.47 L126.64 201.44 L127.69 201.46 L128.75 201.45 L129.8 201.48 L130.85 201.48 L131.91 201.48 L132.96 201.46 L134.01 201.46 L135.06 201.45 L136.12 201.5 L137.17 201.45 L138.22 201.44 L139.28 201.47 L140.33 201.5 L141.38 201.48 L142.43 201.5 L143.49 201.49 L144.54 201.44 L145.59 201.46 L146.64 201.46 L147.7 201.45 L148.75 201.44 L149.8 201.46 L150.86 201.46 L151.91 201.46 L152.96 201.46 L154.01 201.46 L155.07 201.46 L156.12 201.49 L157.17 201.46 L158.22 201.47 L159.28 201.45 L160.33 201.49 L161.38 201.49 L162.44 201.5 L163.49 201.45 L164.54 201.44 L165.59 201.46 L166.65 201.48 L167.7 201.45 L168.75 201.45 L169.81 201.46 L170.86 201.48 L171.91 201.48 L172.96 201.47 L174.02 201.48 L175.07 201.47 L176.12 201.46 L177.18 201.44 L178.23 201.5 L179.28 201.46 L180.33 201.5 L181.39 201.49 L182.44 201.45 L183.49 201.46 L184.54 201.44 L185.6 201.47 L186.65 201.5 L187.7 201.48 L188.76 201.46 L189.81 201.44 L190.86 201.44 L191.91 201.47 L192.97 201.47 L194.02 201.49 L195.07 201.46 L196.12 201.49 L197.18 201.49 L198.23 201.5 L199.28 201.5 L200.34 201.46 L201.39 201.49 L202.44 201.44 L203.49 201.5 L204.55 201.44 L205.6 201.49 L206.65 201.5 L207.71 201.45 L208.76 201.49 L209.81 201.45" fill="none" stroke="#FADE2A" stroke-width="1" stroke-opacity="0.9" stroke-linejoin="round"/>
<path d="M215.07 201.44 L216.13 201.45 L217.18 201.5 L218.23 201.46 L219.29 201.45 L220.34 201.47 L221.39 201.44 L222.44 201.48 L223.5 201.44 L224.55 201.45 L225.6 201.5 L226.66 201.5 L227.71 201.46 L228.76 201.45 L229.81 201.5 L230.87 201.48 L231.92 201.45 L232.97 201.49 L234.03 201.44 L235.08 201.47 L236.13 201.5" fill="none" stroke="#FADE2A" stroke-width="1" stroke-opacity="0.9" stroke-linejoin="round"/>
<path d="M240.34 201.46 L241.39 201.49 L242.45 201.45 L243.5 201.48 L244.55 201.46 L245.61 201.46 L246.66 201.47 L247.71 201.48 L248.76 201.45 L249.82 201.44 L250.87 201.45 L251.92 201.46 L252.97 201.48 L254.03 201.5 L255.08 201.44 L256 201.44 L257 200.78 L258 201.11 L259 199.95 L259.6 197.23 L260.2 200.36 L260.8 201.35 L261.4 201.45 L262.45 201.46 L263.5 201.48 L264.56 201.47 L265.61 201.44 L266.66 201.48 L267.71 201.46 L268.77 201.46 L269.82 201.44 L270.87 201.45 L271.93 201.48 L272.98 201.5 L274.03 201.48 L275.08 201.47 L276.14 201.46 L277.19 201.45 L278.24 201.44 L279.29 201.5 L280.35 201.45 L281.4 201.45 L282.45 201.44 L283.51 201.46 L284.56 201.48 L285.61 201.45 L286.66 201.45 L287.72 201.46 L288.77 201.44 L289.82 201.48 L290.88 201.5 L291.93 201.46 L292.98 201.45 L294.03 201.49 L295.09 201.45 L296.14 201.44 L297.19 201.49 L298.24 201.46 L299.3 201.46 L300.35 201.47 L301.4 201.49 L302.46 201.48 L303.51 201.45 L304.56 201.45 L305.61 201.47 L306.67 201.5 L307.72 201.45 L308.77 201.45 L309.82 201.49 L310.88 201.46 L311.93 201.44 L312.98 201.44 L314.04 201.47 L315.09 201.47 L316.14 201.46 L317.19 201.49 L318.25 201.49 L319.3 201.49 L320.35 201.45 L321.41 201.48 L322.46 201.46 L323.51 201.47 L324.56 201.47 L325.62 201.49 L326.67 201.5 L327.72 201.44 L328.77 201.48 L329.83 201.49 L330.88 201.46 L331.93 201.45 L332.99 201.49 L334.04 201.46 L335.09 201.48 L336.14 201.47 L337.2 201.5 L338.25 201.5 L339.3 201.44 L340.36 201.44 L341.41 201.47 L342.46 201.46 L343.51 201.48 L344.57 201.45 L345.62 201.47 L346.67 201.44 L347.73 201.45 L348.78 201.45 L349.83 201.44 L350.88 201.48 L351.94 201.5 L352.99 201.49 L354.04 201.49 L355.09 201.5 L356.15 201.5 L357.2 201.46 L358.25 201.44 L359.31 201.47 L360.36 201.44 L361.41 201.44 L362.46 201.5 L363.52 201.46 L364.57 201.47 L365.62 201.49 L366.68 201.44 L367.73 201.48 L368.78 201.46 L369.83 201.46 L370.89 201.44 L371.94 201.46 L372.99 201.48 L374.04 201.47 L375.1 201.49 L376.15 201.44 L377.2 201.44 L378.26 201.49 L379.31 201.5 L380.36 201.48 L381.41 201.48 L382.47 201.44 L383.52 201.44 L384.57 201.45 L385.62 201.5 L386.68 201.45 L387.73 201.45 L388.78 201.46 L389.84 201.44 L390.89 201.5 L391.94 201.49 L392.99 201.45 L394.05 201.44 L395.1 201.46 L396.15 201.48 L397.21 201.46 L398.26 201.45 L399.31 201.49 L400.36 201.48 L401.42 201.48 L402.47 201.49 L403.52 201.47 L404.57 201.49 L405.63 201.49 L406.68 201.49 L407.73 201.46 L408.79 201.5 L409.84 201.45 L410.89 201.49 L411.94 201.5 L413 201.44 L414.05 201.49 L415.1 201.44 L416.16 201.44 L417.21 201.44 L418.26 201.49 L419.31 201.47 L420.37 201.49 L421.42 201.44 L422.47 201.45 L423.52 201.46 L424.58 201.47 L425.63 201.48 L426.68 201.45 L427.74 201.47 L428.79 201.46 L429.84 201.49 L430.89 201.49 L431.95 201.5 L433 201.45 L434.05 201.46 L435.11 201.49 L436.16 201.44 L437.21 201.48 L438.26 201.47 L439.32 201.49 L440.37 201.48 L441.42 201.45 L442.48 201.48 L443.53 201.49 L444.58 201.47 L445.63 201.48 L446.69 201.44 L447.74 201.49 L448.79 201.44 L449.84 201.5 L450.9 201.44 L451.95 201.46 L453 201.49 L454.06 201.47 L455.11 201.48 L456.16 201.48 L457.21 201.49 L458.27 201.48 L459.32 201.44 L460.37 201.44 L461.43 201.44 L462.48 201.49 L463.53 201.48 L464.58 201.44 L465.64 201.5 L466.69 201.45 L467.74 201.48 L468.79 201.44 L469.85 201.5 L470.9 201.45 L471.95 201.48 L473.01 201.49 L474.06 201.5 L475.11 201.45 L476.16 201.47 L477.22 201.49 L478.27 201.47 L479.32 201.44 L480.38 201.49 L481.43 201.46 L482.48 201.49 L483.53 201.49 L484.59 201.45 L485.64 201.45 L486.69 201.49 L487.74 201.5 L488.8 201.5 L489.85 201.46 L490.9 201.47 L491.96 201.48 L493.01 201.49 L494.06 201.46 L495.11 201.45 L496.17 201.45 L497.22 201.46 L498.27 201.49 L499.32 201.5 L500.38 201.45 L501.43 201.47 L502.48 201.45 L503.54 201.5 L504.59 201.45 L505.64 201.48 L506.69 201.45 L507.75 201.44 L508.8 201.47 L509.85 201.5 L510.91 201.44 L511.96 201.47 L513.01 201.44 L514.06 201.48 L515.12 201.49 L516.17 201.45 L517.22 201.48 L518.27 201.49 L519.33 201.48 L520.38 201.46 L521.43 201.5 L522.49 201.47 L523.54 201.47 L524.59 201.47 L525.64 201.49 L526.7 201.45 L527.75 201.45 L528.8 201.44 L529.86 201.48 L530.91 201.45 L531.96 201.48 L533.01 201.45 L534.07 201.5 L535.12 201.44 L536.17 201.44 L537.23 201.47 L538.28 201.47 L539.33 201.47 L540.38 201.47 L541.44 201.5 L542.49 201.44 L543.54 201.49 L544.59 201.49 L545.65 201.49 L546.7 201.48 L547.75 201.45 L548.81 201.5 L549.86 201.49 L550.91 201.46 L551.96 201.49 L553.02 201.5 L554.07 201.46 L555.12 201.46 L556.17 201.47 L557.23 201.45 L558.28 201.49 L559.33 201.44 L560.39 201.45 L561.44 201.5 L562.49 201.49 L563.54 201.47 L564.6 201.47 L565.65 201.48 L566.7 201.49 L567.76 201.47 L568.81 201.49 L569.86 201.46 L570.91 201.44 L571.97 201.49 L573.02 201.46 L574.07 201.45 L575.12 201.49 L576.18 201.45 L577.23 201.44 L578.28 201.48 L579.34 201.47 L580.39 201.45 L581.44 201.47 L582.49 201.48 L583.55 201.44 L584.6 201.45 L585.65 201.48 L586.71 201.49 L587.76 201.48 L588.81 201.47 L589.86 201.44 L590.92 201.45 L591.97 201.44 L593.02 201.45 L594.08 201.45 L595.13 201.5 L596.18 201.47 L597.23 201.44 L598.29 201.44 L599.34 201.48 L600.39 201.47 L601.44 201.46 L602.5 201.48 L603.55 201.47 L604.6 201.5 L605.66 201.47 L606.71 201.47 L607.76 201.5 L608.81 201.49 L609.87 201.44 L610.92 201.45 L611.97 201.44 L613.02 201.46 L614.08 201.45 L615.13 201.44 L616.18 201.44 L617.24 201.5 L618.29 201.46 L619.34 201.48 L620.39 201.46 L621.45 201.48 L622.5 201.47" fill="none" stroke="#FADE2A" stroke-width="1" stroke-opacity="0.9" stroke-linejoin="round"/>
<text x="66.73" y="216.9" text-anchor="middle" font-size="10.8" fill="#ccccdc" stroke="#ccccdc" stroke-width="0.18" letter-spacing="-0.48">13:15</text>
<text x="114.23" y="216.9" text-anchor="middle" font-size="10.8" fill="#ccccdc" stroke="#ccccdc" stroke-width="0.18" letter-spacing="-0.24">13:30</text>
<text x="161.6" y="216.9" text-anchor="middle" font-size="10.8" fill="#ccccdc" stroke="#ccccdc" stroke-width="0.18" letter-spacing="-0.24">13:45</text>
<text x="208.98" y="216.9" text-anchor="middle" font-size="10.8" fill="#ccccdc" stroke="#ccccdc" stroke-width="0.18" letter-spacing="-0.24">14:00</text>
<text x="256.23" y="216.9" text-anchor="middle" font-size="10.8" fill="#ccccdc" stroke="#ccccdc" stroke-width="0.18" letter-spacing="-0.48">14:15</text>
<text x="303.73" y="216.9" text-anchor="middle" font-size="10.8" fill="#ccccdc" stroke="#ccccdc" stroke-width="0.18" letter-spacing="-0.24">14:30</text>
<text x="351.1" y="216.9" text-anchor="middle" font-size="10.8" fill="#ccccdc" stroke="#ccccdc" stroke-width="0.18" letter-spacing="-0.24">14:45</text>
<text x="398.48" y="216.9" text-anchor="middle" font-size="10.8" fill="#ccccdc" stroke="#ccccdc" stroke-width="0.18" letter-spacing="-0.24">15:00</text>
<text x="445.73" y="216.9" text-anchor="middle" font-size="10.8" fill="#ccccdc" stroke="#ccccdc" stroke-width="0.18" letter-spacing="-0.48">15:15</text>
<text x="493.23" y="216.9" text-anchor="middle" font-size="10.8" fill="#ccccdc" stroke="#ccccdc" stroke-width="0.18" letter-spacing="-0.24">15:30</text>
<text x="540.6" y="216.9" text-anchor="middle" font-size="10.8" fill="#ccccdc" stroke="#ccccdc" stroke-width="0.18" letter-spacing="-0.24">15:45</text>
<text x="587.98" y="216.9" text-anchor="middle" font-size="10.8" fill="#ccccdc" stroke="#ccccdc" stroke-width="0.18" letter-spacing="-0.24">16:00</text>
<text x="49.5" y="205.4" text-anchor="end" font-size="10.8" fill="#ccccdc" stroke="#ccccdc" stroke-width="0.18">0%</text>
<text x="49.5" y="164.2" text-anchor="end" font-size="10.8" fill="#ccccdc" stroke="#ccccdc" stroke-width="0.18">50%</text>
<text x="49.2" y="123" text-anchor="end" font-size="10.8" fill="#ccccdc" stroke="#ccccdc" stroke-width="0.18" letter-spacing="-0.3">100%</text></g>
<g><line x1="684.5" y1="111" x2="684.5" y2="201.75" stroke="#212428" stroke-width="1"/>
<line x1="733.5" y1="111" x2="733.5" y2="201.75" stroke="#212428" stroke-width="1"/>
<line x1="781.5" y1="111" x2="781.5" y2="201.75" stroke="#212428" stroke-width="1"/>
<line x1="830.5" y1="111" x2="830.5" y2="201.75" stroke="#212428" stroke-width="1"/>
<line x1="878.5" y1="111" x2="878.5" y2="201.75" stroke="#212428" stroke-width="1"/>
<line x1="927.5" y1="111" x2="927.5" y2="201.75" stroke="#212428" stroke-width="1"/>
<line x1="975.5" y1="111" x2="975.5" y2="201.75" stroke="#212428" stroke-width="1"/>
<line x1="1024.5" y1="111" x2="1024.5" y2="201.75" stroke="#212428" stroke-width="1"/>
<line x1="1072.5" y1="111" x2="1072.5" y2="201.75" stroke="#212428" stroke-width="1"/>
<line x1="1121.5" y1="111" x2="1121.5" y2="201.75" stroke="#212428" stroke-width="1"/>
<line x1="1169.5" y1="111" x2="1169.5" y2="201.75" stroke="#212428" stroke-width="1"/>
<line x1="1218.5" y1="111" x2="1218.5" y2="201.75" stroke="#212428" stroke-width="1"/>
<line x1="670.9" y1="201.5" x2="1252.8" y2="201.5" stroke="#212428" stroke-width="1"/>
<line x1="670.9" y1="164.5" x2="1252.8" y2="164.5" stroke="#212428" stroke-width="1"/>
<line x1="670.9" y1="126.5" x2="1252.8" y2="126.5" stroke="#212428" stroke-width="1"/>
<path d="M670.9 200.18 L671.98 200.27 L673.06 200.42 L674.13 200.43 L675.21 199.75 L676.29 199.04 L677.37 199.69 L678.44 200.07 L679.52 200.2 L680.6 200.41 L681.68 200.41 L682.75 200.32 L683.83 200.37 L684.91 200.48 L685.99 200.48 L687.06 200.48 L688.14 200.57 L689.22 200.63 L690.3 200.67 L691.37 200.65 L692.45 200.6 L693.53 200.61 L694.61 200.62 L695.68 200.67 L696.76 200.58 L697.84 200.44 L698.92 200.43 L700 200.43 L701.07 200.4 L702.15 200.51 L703.23 200.44 L704.31 200.46 L705.38 200.45 L706.46 200.43 L707.54 200.45 L708.62 200.51 L709.69 200.57 L710.77 200.6 L711.85 200.55 L712.93 200.55 L714 200.49 L715.08 200.62 L716.16 200.6 L717.24 200.45 L718.31 200.53 L719.39 200.49 L720.47 200.49 L721.55 200.54 L722.62 200.38 L723.7 200.47 L724.78 200.4 L725.86 200.52 L726.93 200.62 L728.01 200.46 L729.09 200.48 L730.17 200.6 L731.25 200.58 L732.32 200.55 L733.4 200.46 L734.48 200.57 L735.56 199.92 L736.63 198.43 L737.71 198.39 L738.79 199.04 L739.87 199.46 L740.94 199.76 L742.02 199.89 L743.1 200.01 L744.18 200.04 L745.25 200.09 L746.33 200.2 L747.41 200.22 L748.49 200.24 L749.56 200.25 L750.64 200.34 L751.72 200.31 L752.8 200.31 L753.87 200.26 L754.95 200.46 L756.03 200.36 L757.11 200.54 L758.18 200.44 L759.26 200.43 L760.34 200.45 L761.42 200.33 L762.5 200.37 L763.57 200.43 L764.65 200.37 L765.73 200.31 L766.81 200.35 L767.88 200.43 L768.96 200.46 L770.04 200.48 L771.12 200.41 L772.19 200.49 L773.27 200.51 L774.35 198.38 L775.43 195.75 L776.5 193.12 L777.58 192.48 L778.66 193.53 L779.74 194.55 L780.81 195.43 L781.89 196.24 L782.97 196.88 L784.05 197.46 L785.12 197.83 L786.2 198.17 L787.28 198.6 L788.36 196.15 L789.44 194.99 L790.51 196.05 L791.59 196.9 L792.67 197.54 L793.75 198.26 L794.82 198.73 L795.9 198.97 L796.98 199.42 L798.06 199.74 L799.13 199.83 L800.21 199.93 L801.29 199.91 L802.37 199.96 L803.44 200.07 L804.52 200.02 L805.6 200.14 L806.68 200.22 L807.75 200.23 L808.83 200.32 L809.91 200.42 L810.99 200.39 L812.06 200.5 L813.14 200.37 L814.22 200.36 L815.3 200.4 L816.38 200.54 L817.45 200.54 L818.53 200.54 L819.61 200.5 L820.69 200.47 L821.76 200.37 L822.84 200.28 L823.92 200.36 L825 200.42 L826.5 199.87 L827.5 198.18 L828.5 199.12 L829.5 198.37 L830.3 195.73 L830.9 190.47 L830.9 201.75 L670.9 201.75 Z" fill="#73BF69" fill-opacity="0.1" stroke="none"/>
<path d="M835.1 161.52 L835.6 161.89 L836.5 170.54 L837.5 177.31 L838.5 182.2 L840 187.84 L842 193.1 L844 196.11 L846 198.37 L848 199.49 L850 199.87 L851 199.49 L852 194.23 L853 186.71 L853.6 182.2 L854.4 185.58 L855.2 183.7 L856 179.19 L857 173.17 L857.7 167.91 L857.7 201.75 L835.1 201.75 Z" fill="#73BF69" fill-opacity="0.1" stroke="none"/>
<path d="M861.6 146.85 L862.3 141.59 L863.2 134.07 L864.5 127.3 L865.3 122.79 L866 122.04 L866.8 125.8 L867.5 130.31 L868.2 125.42 L868.9 131.06 L869.6 125.05 L870.3 129.18 L871 124.29 L871.8 128.05 L872.6 121.66 L873.4 120.91 L874 128.43 L875 139.71 L876 152.87 L877 164.15 L878 173.17 L879 181.07 L880 186.71 L881 190.47 L882 192.35 L883 193.1 L884.5 193.85 L886 195.73 L888 197.61 L890 198.74 L892.5 199.87 L893.96 200.58 L895.04 200.6 L896.12 200.66 L897.19 200.47 L898.27 200.3 L899.35 199.74 L900.43 199.52 L901.5 199.84 L902.58 200.14 L903.66 200.12 L904.74 200.21 L905.82 200.17 L906.89 200.29 L907.97 200.32 L909.05 200.44 L910.13 200.57 L911.2 200.41 L912.28 200.34 L913.36 200.44 L914.44 200.34 L915.51 199.54 L916.59 199.31 L917.67 199.77 L918.75 199.93 L919.82 200.16 L920.9 200.16 L921.98 200.36 L923.06 200.44 L924.13 200.39 L925.21 200.5 L926.29 200.55 L927.37 200.42 L928.44 200.44 L929.52 199.49 L930.6 199.1 L931.68 199.6 L932.75 199.89 L933.83 200.14 L934.91 200.1 L935.99 200.27 L937.07 200.31 L938.14 200.47 L939.22 200.45 L940.3 200.48 L941.38 200.5 L942.45 200.6 L943.53 200.2 L944.61 199.13 L945.69 199.18 L946.76 199.64 L947.84 199.96 L948.92 200.16 L950 200.31 L951.07 200.47 L952.15 200.4 L953.23 200.46 L954.31 200.55 L955.38 200.45 L956.46 200.57 L957.54 199.35 L958.62 197.83 L959.69 198.63 L960.77 199.13 L961.85 199.38 L962.93 199.6 L964.01 199.94 L965.08 200.11 L966.16 200.14 L967.24 200.27 L968.32 200.19 L969.39 200.36 L970.47 199.95 L971.55 198.05 L972.63 196.19 L973.7 194.23 L974.78 193.91 L975.86 195.1 L976.94 196.22 L978.01 196.92 L979.09 197.6 L980.17 198.2 L981.25 198.71 L982.32 199.01 L983.4 199.37 L984.48 199.46 L985.56 199.77 L986.63 199.89 L987.71 199.98 L988.79 200.14 L989.87 200.11 L990.94 200.22 L992.02 200.22 L993.1 200.26 L994.18 200.36 L995.26 200.41 L996.33 200.52 L997.41 200.57 L998.49 200.42 L999.57 200.52 L1000.64 197.9 L1001.72 191.8 L1002.8 185.53 L1003.88 185.65 L1004.95 188.8 L1006.03 191.33 L1007.11 193.38 L1008.19 194.91 L1009.26 196.14 L1010.34 197.13 L1011.42 197.75 L1012.5 198.38 L1013.57 198.83 L1014.65 199.05 L1015.73 199.29 L1016.81 199.46 L1017.88 199.61 L1018.96 199.93 L1020.04 200.11 L1021.12 200.31 L1022.2 200.26 L1023.27 200.25 L1024.35 200.34 L1025.43 200.39 L1026.51 200.45 L1027.58 200.41 L1028.66 200.5 L1029.74 200.4 L1030.82 200.47 L1031.89 200.43 L1032.97 200.53 L1034.05 200.61 L1035.13 200.45 L1036.2 200.39 L1037.28 200.37 L1038.36 200.53 L1039.44 200.63 L1040.51 200.66 L1041.59 200.67 L1042.67 200.64 L1043.75 200.61 L1044.82 200.68 L1045.9 200.65 L1046.98 200.54 L1048.06 199.36 L1049.13 198.27 L1050.21 198.92 L1051.29 199.33 L1052.37 199.75 L1053.45 199.98 L1054.52 200.08 L1055.6 200.24 L1056.68 200.44 L1057.76 199.43 L1058.83 198.25 L1059.91 197.24 L1060.99 198.13 L1062.07 198.57 L1063.14 198.99 L1064.22 199.49 L1065.3 199.77 L1066.38 200.02 L1067.45 200.02 L1068.53 200.2 L1069.61 200.14 L1070.69 200.16 L1071.76 200.36 L1072.84 200.32 L1073.92 200.39 L1075 200.34 L1076.07 200.29 L1077.15 200.41 L1078.23 200.54 L1079.31 200.39 L1080.39 200.46 L1081.46 200.35 L1082.54 200.34 L1083.62 200.33 L1084.7 200.3 L1085.77 200.33 L1086.85 200.4 L1087.93 200.55 L1089.01 200.46 L1090.08 200.49 L1091.16 200.48 L1092.24 200.36 L1093.32 200.51 L1094.39 200.42 L1095.47 200.56 L1096.55 200.47 L1097.63 200.39 L1098.7 200.49 L1099.78 200.47 L1100.86 200.34 L1101.94 200.36 L1103.01 200.39 L1104.09 200.49 L1105.17 200.6 L1106.25 200.59 L1107.33 200.57 L1108.4 200.61 L1109.48 200.61 L1110.56 200.65 L1111.64 200.52 L1112.71 200.46 L1113.79 200.21 L1114.87 199.55 L1115.95 199.47 L1117.02 199.78 L1118.1 199.87 L1119.18 200.1 L1120.26 200.27 L1121.33 200.22 L1122.41 200.4 L1123.49 200.4 L1124.57 200.46 L1125.64 200.38 L1126.72 200.4 L1127.8 200.35 L1128.88 200.49 L1129.95 200.44 L1131.03 200.43 L1132.11 200.46 L1133.19 200.39 L1134.26 200.33 L1135.34 200.49 L1136.42 200.54 L1137.5 200.55 L1138.58 200.6 L1139.65 200.67 L1140.73 200.65 L1141.81 200.66 L1142.89 200.53 L1143.96 200.52 L1145.04 200.61 L1146.12 200.6 L1147.2 200.56 L1148.27 200.56 L1149.35 200.61 L1150.43 200.67 L1151.51 200.72 L1152.58 200.49 L1153.66 200.42 L1154.74 200.55 L1155.82 200.46 L1156.89 200.33 L1157.97 200.37 L1159.05 200.52 L1160.13 200.5 L1161.2 200.51 L1162.28 200.58 L1163.36 200.52 L1164.44 200.64 L1165.51 200.46 L1166.59 200.42 L1167.67 200.41 L1168.75 200.32 L1169.83 200.34 L1170.9 200.46 L1171.98 200.53 L1173.06 200.61 L1174.14 200.68 L1175.21 200.52 L1176.29 200.41 L1177.37 200.49 L1178.45 200.57 L1179.52 200.49 L1180.6 200.39 L1181.68 200.31 L1182.76 200.46 L1183.83 200.39 L1184.91 200.33 L1185.99 200.32 L1187.07 200.43 L1188.14 200.53 L1189.22 200.42 L1190.3 200.49 L1191.38 200.52 L1192.45 200.49 L1193.53 200.52 L1194.61 200.41 L1195.69 200.5 L1196.77 200.62 L1197.84 200.54 L1198.92 200.48 L1200 200.39 L1201.08 200.37 L1202.15 200.3 L1203.23 200.25 L1204.31 200.34 L1205.39 200.39 L1206.46 200.52 L1207.54 200.55 L1208.62 200.5 L1209.7 200.6 L1210.77 200.5 L1211.85 200.58 L1212.93 200.55 L1214.01 200.39 L1215.08 200.54 L1216.16 200.63 L1217.24 200.59 L1218.32 200.62 L1219.39 200.5 L1220.47 200.62 L1221.55 200.47 L1222.63 200.38 L1223.7 200.34 L1224.78 200.41 L1225.86 200.49 L1226.94 200.44 L1228.02 200.45 L1229.09 200.48 L1230.17 200.52 L1231.25 200.52 L1232.33 200.45 L1233.4 200.37 L1234.48 200.3 L1235.56 200.46 L1236.64 199.46 L1237.71 199.09 L1238.79 199.49 L1239.87 199.82 L1240.95 200.1 L1242.02 200.31 L1243.1 200.39 L1244.18 200.41 L1245.26 200.29 L1246.33 200.24 L1247.41 200.23 L1248.49 200.19 L1249.57 200.17 L1250.64 200.26 L1251.72 200.26 L1252.8 200.47 L1252.8 201.75 L861.6 201.75 Z" fill="#73BF69" fill-opacity="0.1" stroke="none"/>
<path d="M670.9 200.18 L671.98 200.27 L673.06 200.42 L674.13 200.43 L675.21 199.75 L676.29 199.04 L677.37 199.69 L678.44 200.07 L679.52 200.2 L680.6 200.41 L681.68 200.41 L682.75 200.32 L683.83 200.37 L684.91 200.48 L685.99 200.48 L687.06 200.48 L688.14 200.57 L689.22 200.63 L690.3 200.67 L691.37 200.65 L692.45 200.6 L693.53 200.61 L694.61 200.62 L695.68 200.67 L696.76 200.58 L697.84 200.44 L698.92 200.43 L700 200.43 L701.07 200.4 L702.15 200.51 L703.23 200.44 L704.31 200.46 L705.38 200.45 L706.46 200.43 L707.54 200.45 L708.62 200.51 L709.69 200.57 L710.77 200.6 L711.85 200.55 L712.93 200.55 L714 200.49 L715.08 200.62 L716.16 200.6 L717.24 200.45 L718.31 200.53 L719.39 200.49 L720.47 200.49 L721.55 200.54 L722.62 200.38 L723.7 200.47 L724.78 200.4 L725.86 200.52 L726.93 200.62 L728.01 200.46 L729.09 200.48 L730.17 200.6 L731.25 200.58 L732.32 200.55 L733.4 200.46 L734.48 200.57 L735.56 199.92 L736.63 198.43 L737.71 198.39 L738.79 199.04 L739.87 199.46 L740.94 199.76 L742.02 199.89 L743.1 200.01 L744.18 200.04 L745.25 200.09 L746.33 200.2 L747.41 200.22 L748.49 200.24 L749.56 200.25 L750.64 200.34 L751.72 200.31 L752.8 200.31 L753.87 200.26 L754.95 200.46 L756.03 200.36 L757.11 200.54 L758.18 200.44 L759.26 200.43 L760.34 200.45 L761.42 200.33 L762.5 200.37 L763.57 200.43 L764.65 200.37 L765.73 200.31 L766.81 200.35 L767.88 200.43 L768.96 200.46 L770.04 200.48 L771.12 200.41 L772.19 200.49 L773.27 200.51 L774.35 198.38 L775.43 195.75 L776.5 193.12 L777.58 192.48 L778.66 193.53 L779.74 194.55 L780.81 195.43 L781.89 196.24 L782.97 196.88 L784.05 197.46 L785.12 197.83 L786.2 198.17 L787.28 198.6 L788.36 196.15 L789.44 194.99 L790.51 196.05 L791.59 196.9 L792.67 197.54 L793.75 198.26 L794.82 198.73 L795.9 198.97 L796.98 199.42 L798.06 199.74 L799.13 199.83 L800.21 199.93 L801.29 199.91 L802.37 199.96 L803.44 200.07 L804.52 200.02 L805.6 200.14 L806.68 200.22 L807.75 200.23 L808.83 200.32 L809.91 200.42 L810.99 200.39 L812.06 200.5 L813.14 200.37 L814.22 200.36 L815.3 200.4 L816.38 200.54 L817.45 200.54 L818.53 200.54 L819.61 200.5 L820.69 200.47 L821.76 200.37 L822.84 200.28 L823.92 200.36 L825 200.42 L826.5 199.87 L827.5 198.18 L828.5 199.12 L829.5 198.37 L830.3 195.73 L830.9 190.47" fill="none" stroke="#73BF69" stroke-width="1" stroke-opacity="0.9" stroke-linejoin="round"/>
<path d="M835.1 161.52 L835.6 161.89 L836.5 170.54 L837.5 177.31 L838.5 182.2 L840 187.84 L842 193.1 L844 196.11 L846 198.37 L848 199.49 L850 199.87 L851 199.49 L852 194.23 L853 186.71 L853.6 182.2 L854.4 185.58 L855.2 183.7 L856 179.19 L857 173.17 L857.7 167.91" fill="none" stroke="#73BF69" stroke-width="1" stroke-opacity="0.9" stroke-linejoin="round"/>
<path d="M861.6 146.85 L862.3 141.59 L863.2 134.07 L864.5 127.3 L865.3 122.79 L866 122.04 L866.8 125.8 L867.5 130.31 L868.2 125.42 L868.9 131.06 L869.6 125.05 L870.3 129.18 L871 124.29 L871.8 128.05 L872.6 121.66 L873.4 120.91 L874 128.43 L875 139.71 L876 152.87 L877 164.15 L878 173.17 L879 181.07 L880 186.71 L881 190.47 L882 192.35 L883 193.1 L884.5 193.85 L886 195.73 L888 197.61 L890 198.74 L892.5 199.87 L893.96 200.58 L895.04 200.6 L896.12 200.66 L897.19 200.47 L898.27 200.3 L899.35 199.74 L900.43 199.52 L901.5 199.84 L902.58 200.14 L903.66 200.12 L904.74 200.21 L905.82 200.17 L906.89 200.29 L907.97 200.32 L909.05 200.44 L910.13 200.57 L911.2 200.41 L912.28 200.34 L913.36 200.44 L914.44 200.34 L915.51 199.54 L916.59 199.31 L917.67 199.77 L918.75 199.93 L919.82 200.16 L920.9 200.16 L921.98 200.36 L923.06 200.44 L924.13 200.39 L925.21 200.5 L926.29 200.55 L927.37 200.42 L928.44 200.44 L929.52 199.49 L930.6 199.1 L931.68 199.6 L932.75 199.89 L933.83 200.14 L934.91 200.1 L935.99 200.27 L937.07 200.31 L938.14 200.47 L939.22 200.45 L940.3 200.48 L941.38 200.5 L942.45 200.6 L943.53 200.2 L944.61 199.13 L945.69 199.18 L946.76 199.64 L947.84 199.96 L948.92 200.16 L950 200.31 L951.07 200.47 L952.15 200.4 L953.23 200.46 L954.31 200.55 L955.38 200.45 L956.46 200.57 L957.54 199.35 L958.62 197.83 L959.69 198.63 L960.77 199.13 L961.85 199.38 L962.93 199.6 L964.01 199.94 L965.08 200.11 L966.16 200.14 L967.24 200.27 L968.32 200.19 L969.39 200.36 L970.47 199.95 L971.55 198.05 L972.63 196.19 L973.7 194.23 L974.78 193.91 L975.86 195.1 L976.94 196.22 L978.01 196.92 L979.09 197.6 L980.17 198.2 L981.25 198.71 L982.32 199.01 L983.4 199.37 L984.48 199.46 L985.56 199.77 L986.63 199.89 L987.71 199.98 L988.79 200.14 L989.87 200.11 L990.94 200.22 L992.02 200.22 L993.1 200.26 L994.18 200.36 L995.26 200.41 L996.33 200.52 L997.41 200.57 L998.49 200.42 L999.57 200.52 L1000.64 197.9 L1001.72 191.8 L1002.8 185.53 L1003.88 185.65 L1004.95 188.8 L1006.03 191.33 L1007.11 193.38 L1008.19 194.91 L1009.26 196.14 L1010.34 197.13 L1011.42 197.75 L1012.5 198.38 L1013.57 198.83 L1014.65 199.05 L1015.73 199.29 L1016.81 199.46 L1017.88 199.61 L1018.96 199.93 L1020.04 200.11 L1021.12 200.31 L1022.2 200.26 L1023.27 200.25 L1024.35 200.34 L1025.43 200.39 L1026.51 200.45 L1027.58 200.41 L1028.66 200.5 L1029.74 200.4 L1030.82 200.47 L1031.89 200.43 L1032.97 200.53 L1034.05 200.61 L1035.13 200.45 L1036.2 200.39 L1037.28 200.37 L1038.36 200.53 L1039.44 200.63 L1040.51 200.66 L1041.59 200.67 L1042.67 200.64 L1043.75 200.61 L1044.82 200.68 L1045.9 200.65 L1046.98 200.54 L1048.06 199.36 L1049.13 198.27 L1050.21 198.92 L1051.29 199.33 L1052.37 199.75 L1053.45 199.98 L1054.52 200.08 L1055.6 200.24 L1056.68 200.44 L1057.76 199.43 L1058.83 198.25 L1059.91 197.24 L1060.99 198.13 L1062.07 198.57 L1063.14 198.99 L1064.22 199.49 L1065.3 199.77 L1066.38 200.02 L1067.45 200.02 L1068.53 200.2 L1069.61 200.14 L1070.69 200.16 L1071.76 200.36 L1072.84 200.32 L1073.92 200.39 L1075 200.34 L1076.07 200.29 L1077.15 200.41 L1078.23 200.54 L1079.31 200.39 L1080.39 200.46 L1081.46 200.35 L1082.54 200.34 L1083.62 200.33 L1084.7 200.3 L1085.77 200.33 L1086.85 200.4 L1087.93 200.55 L1089.01 200.46 L1090.08 200.49 L1091.16 200.48 L1092.24 200.36 L1093.32 200.51 L1094.39 200.42 L1095.47 200.56 L1096.55 200.47 L1097.63 200.39 L1098.7 200.49 L1099.78 200.47 L1100.86 200.34 L1101.94 200.36 L1103.01 200.39 L1104.09 200.49 L1105.17 200.6 L1106.25 200.59 L1107.33 200.57 L1108.4 200.61 L1109.48 200.61 L1110.56 200.65 L1111.64 200.52 L1112.71 200.46 L1113.79 200.21 L1114.87 199.55 L1115.95 199.47 L1117.02 199.78 L1118.1 199.87 L1119.18 200.1 L1120.26 200.27 L1121.33 200.22 L1122.41 200.4 L1123.49 200.4 L1124.57 200.46 L1125.64 200.38 L1126.72 200.4 L1127.8 200.35 L1128.88 200.49 L1129.95 200.44 L1131.03 200.43 L1132.11 200.46 L1133.19 200.39 L1134.26 200.33 L1135.34 200.49 L1136.42 200.54 L1137.5 200.55 L1138.58 200.6 L1139.65 200.67 L1140.73 200.65 L1141.81 200.66 L1142.89 200.53 L1143.96 200.52 L1145.04 200.61 L1146.12 200.6 L1147.2 200.56 L1148.27 200.56 L1149.35 200.61 L1150.43 200.67 L1151.51 200.72 L1152.58 200.49 L1153.66 200.42 L1154.74 200.55 L1155.82 200.46 L1156.89 200.33 L1157.97 200.37 L1159.05 200.52 L1160.13 200.5 L1161.2 200.51 L1162.28 200.58 L1163.36 200.52 L1164.44 200.64 L1165.51 200.46 L1166.59 200.42 L1167.67 200.41 L1168.75 200.32 L1169.83 200.34 L1170.9 200.46 L1171.98 200.53 L1173.06 200.61 L1174.14 200.68 L1175.21 200.52 L1176.29 200.41 L1177.37 200.49 L1178.45 200.57 L1179.52 200.49 L1180.6 200.39 L1181.68 200.31 L1182.76 200.46 L1183.83 200.39 L1184.91 200.33 L1185.99 200.32 L1187.07 200.43 L1188.14 200.53 L1189.22 200.42 L1190.3 200.49 L1191.38 200.52 L1192.45 200.49 L1193.53 200.52 L1194.61 200.41 L1195.69 200.5 L1196.77 200.62 L1197.84 200.54 L1198.92 200.48 L1200 200.39 L1201.08 200.37 L1202.15 200.3 L1203.23 200.25 L1204.31 200.34 L1205.39 200.39 L1206.46 200.52 L1207.54 200.55 L1208.62 200.5 L1209.7 200.6 L1210.77 200.5 L1211.85 200.58 L1212.93 200.55 L1214.01 200.39 L1215.08 200.54 L1216.16 200.63 L1217.24 200.59 L1218.32 200.62 L1219.39 200.5 L1220.47 200.62 L1221.55 200.47 L1222.63 200.38 L1223.7 200.34 L1224.78 200.41 L1225.86 200.49 L1226.94 200.44 L1228.02 200.45 L1229.09 200.48 L1230.17 200.52 L1231.25 200.52 L1232.33 200.45 L1233.4 200.37 L1234.48 200.3 L1235.56 200.46 L1236.64 199.46 L1237.71 199.09 L1238.79 199.49 L1239.87 199.82 L1240.95 200.1 L1242.02 200.31 L1243.1 200.39 L1244.18 200.41 L1245.26 200.29 L1246.33 200.24 L1247.41 200.23 L1248.49 200.19 L1249.57 200.17 L1250.64 200.26 L1251.72 200.26 L1252.8 200.47" fill="none" stroke="#73BF69" stroke-width="1" stroke-opacity="0.9" stroke-linejoin="round"/>
<path d="M670.9 171.67 L831.2 171.67 L831.2 201.75 L670.9 201.75 Z" fill="#F2495C" fill-opacity="0.1" stroke="none"/>
<path d="M835 171.67 L857.9 171.67 L857.9 201.75 L835 201.75 Z" fill="#F2495C" fill-opacity="0.1" stroke="none"/>
<path d="M861.5 171.67 L1252.8 171.67 L1252.8 201.75 L861.5 201.75 Z" fill="#F2495C" fill-opacity="0.1" stroke="none"/>
<path d="M670.9 171.67 L831.2 171.67" fill="none" stroke="#F2495C" stroke-width="1" stroke-opacity="0.9" stroke-linejoin="round"/>
<path d="M835 171.67 L857.9 171.67" fill="none" stroke="#F2495C" stroke-width="1" stroke-opacity="0.9" stroke-linejoin="round"/>
<path d="M861.5 171.67 L1252.8 171.67" fill="none" stroke="#F2495C" stroke-width="1" stroke-opacity="0.9" stroke-linejoin="round"/>
<text x="683.96" y="216.9" text-anchor="middle" font-size="10.8" fill="#ccccdc" stroke="#ccccdc" stroke-width="0.18" letter-spacing="-0.48">13:15</text>
<text x="732.57" y="216.9" text-anchor="middle" font-size="10.8" fill="#ccccdc" stroke="#ccccdc" stroke-width="0.18" letter-spacing="-0.24">13:30</text>
<text x="781.06" y="216.9" text-anchor="middle" font-size="10.8" fill="#ccccdc" stroke="#ccccdc" stroke-width="0.18" letter-spacing="-0.24">13:45</text>
<text x="829.55" y="216.9" text-anchor="middle" font-size="10.8" fill="#ccccdc" stroke="#ccccdc" stroke-width="0.18" letter-spacing="-0.24">14:00</text>
<text x="877.92" y="216.9" text-anchor="middle" font-size="10.8" fill="#ccccdc" stroke="#ccccdc" stroke-width="0.18" letter-spacing="-0.48">14:15</text>
<text x="926.53" y="216.9" text-anchor="middle" font-size="10.8" fill="#ccccdc" stroke="#ccccdc" stroke-width="0.18" letter-spacing="-0.24">14:30</text>
<text x="975.03" y="216.9" text-anchor="middle" font-size="10.8" fill="#ccccdc" stroke="#ccccdc" stroke-width="0.18" letter-spacing="-0.24">14:45</text>
<text x="1023.52" y="216.9" text-anchor="middle" font-size="10.8" fill="#ccccdc" stroke="#ccccdc" stroke-width="0.18" letter-spacing="-0.24">15:00</text>
<text x="1071.89" y="216.9" text-anchor="middle" font-size="10.8" fill="#ccccdc" stroke="#ccccdc" stroke-width="0.18" letter-spacing="-0.48">15:15</text>
<text x="1120.5" y="216.9" text-anchor="middle" font-size="10.8" fill="#ccccdc" stroke="#ccccdc" stroke-width="0.18" letter-spacing="-0.24">15:30</text>
<text x="1168.99" y="216.9" text-anchor="middle" font-size="10.8" fill="#ccccdc" stroke="#ccccdc" stroke-width="0.18" letter-spacing="-0.24">15:45</text>
<text x="1217.48" y="216.9" text-anchor="middle" font-size="10.8" fill="#ccccdc" stroke="#ccccdc" stroke-width="0.18" letter-spacing="-0.24">16:00</text>
<text x="667" y="205.55" text-anchor="end" font-size="10.8" fill="#ccccdc" stroke="#ccccdc" stroke-width="0.18">0</text>
<text x="666.41" y="167.95" text-anchor="end" font-size="10.8" fill="#ccccdc" stroke="#ccccdc" stroke-width="0.18" letter-spacing="-0.59">10</text>
<text x="667" y="130.35" text-anchor="end" font-size="10.8" fill="#ccccdc" stroke="#ccccdc" stroke-width="0.18">20</text></g>
<g><line x1="103.5" y1="370" x2="103.5" y2="477.1" stroke="#35383c"/>
<line x1="159.5" y1="370" x2="159.5" y2="477.1" stroke="#35383c"/>
<line x1="215.5" y1="370" x2="215.5" y2="477.1" stroke="#35383c"/>
<line x1="271.5" y1="370" x2="271.5" y2="477.1" stroke="#35383c"/>
<line x1="327.5" y1="370" x2="327.5" y2="477.1" stroke="#35383c"/>
<line x1="384.5" y1="370" x2="384.5" y2="477.1" stroke="#35383c"/>
<line x1="67.75" y1="370.5" x2="404.2" y2="370.5" stroke="#35383c"/>
<line x1="67.75" y1="397.5" x2="404.2" y2="397.5" stroke="#35383c"/>
<line x1="67.75" y1="423.5" x2="404.2" y2="423.5" stroke="#35383c"/>
<line x1="67.75" y1="450.5" x2="404.2" y2="450.5" stroke="#35383c"/>
<line x1="67.75" y1="477.5" x2="404.2" y2="477.5" stroke="#35383c"/>
<path d="M67.75 445.31 L69.6 444.47 L70.3 475.43 L76 444.47 L76.7 474.85 L83.7 444.47 L84.4 474.97 L91.4 444.47 L92.1 475.49 L99.3 444.47 L100 475.03 L104.5 444.47 L105.2 474.39 L112.2 444.47 L112.9 475.18 L119.7 444.47 L120.4 474.9 L128 444.47 L128.7 475.48 L135.3 444.47 L136 475.41 L140.9 449.22 L141.6 474.5 L148.8 444.47 L149.5 475.94 L155.8 444.47 L156.5 475.67 L160.01 461.48 L160.01 461.48 L160.01 477.1 L67.75 477.1 Z" fill="#7EB26D" fill-opacity="0.1" stroke="none"/>
<path d="M162.4 419.66 L162.4 419.66 L164.8 386.19 L165.9 467.06 L175.9 424.68 L175.9 424.68 L175.9 477.1 L162.4 477.1 Z" fill="#7EB26D" fill-opacity="0.1" stroke="none"/>
<path d="M178.05 387.82 L178.05 387.82 L179.53 462.2 L187.19 431.57 L187.85 428.29 L190.47 386.72 L191.35 474.89 L203.16 391.1 L204.04 474.89 L215.63 387.82 L216.51 474.89 L224.82 386.72 L225.69 470.95 L233.13 387.82 L234.01 466.57 L241.88 392.19 L242.76 474.89 L249.54 392.19 L250.42 474.89 L256.1 394.38 L256.98 476.42 L264.2 396.57 L265.07 474.89 L273.17 397.66 L274.04 474.89 L281.92 396.57 L282.79 474.23 L291.11 397.66 L291.98 474.89 L298.76 410.79 L299.64 474.23 L306.42 402.04 L307.3 476.42 L316.7 402.04 L317.58 470.95 L326.11 404.22 L326.99 470.95 L335.52 407.5 L336.39 474.89 L345.36 405.32 L346.24 473.14 L354.55 407.5 L355.43 473.14 L363.3 414.07 L364.18 476.42 L372.71 410.79 L373.58 474.89 L381.46 410.79 L382.33 473.14 L390.65 412.97 L391.52 476.42 L399.4 412.97 L400.27 476.42 L404.2 449.07 L404.2 477.1 L178.05 477.1 Z" fill="#7EB26D" fill-opacity="0.1" stroke="none"/>
<path d="M67.75 445.31 L69.6 444.47 L70.3 475.43 L76 444.47 L76.7 474.85 L83.7 444.47 L84.4 474.97 L91.4 444.47 L92.1 475.49 L99.3 444.47 L100 475.03 L104.5 444.47 L105.2 474.39 L112.2 444.47 L112.9 475.18 L119.7 444.47 L120.4 474.9 L128 444.47 L128.7 475.48 L135.3 444.47 L136 475.41 L140.9 449.22 L141.6 474.5 L148.8 444.47 L149.5 475.94 L155.8 444.47 L156.5 475.67 L160.01 461.48 L160.01 461.48" fill="none" stroke="#7EB26D" stroke-width="1.1" stroke-opacity="0.9" stroke-linejoin="round"/>
<path d="M162.4 419.66 L162.4 419.66 L164.8 386.19 L165.9 467.06 L175.9 424.68 L175.9 424.68" fill="none" stroke="#7EB26D" stroke-width="1.1" stroke-opacity="0.9" stroke-linejoin="round"/>
<path d="M178.05 387.82 L178.05 387.82 L179.53 462.2 L187.19 431.57 L187.85 428.29 L190.47 386.72 L191.35 474.89 L203.16 391.1 L204.04 474.89 L215.63 387.82 L216.51 474.89 L224.82 386.72 L225.69 470.95 L233.13 387.82 L234.01 466.57 L241.88 392.19 L242.76 474.89 L249.54 392.19 L250.42 474.89 L256.1 394.38 L256.98 476.42 L264.2 396.57 L265.07 474.89 L273.17 397.66 L274.04 474.89 L281.92 396.57 L282.79 474.23 L291.11 397.66 L291.98 474.89 L298.76 410.79 L299.64 474.23 L306.42 402.04 L307.3 476.42 L316.7 402.04 L317.58 470.95 L326.11 404.22 L326.99 470.95 L335.52 407.5 L336.39 474.89 L345.36 405.32 L346.24 473.14 L354.55 407.5 L355.43 473.14 L363.3 414.07 L364.18 476.42 L372.71 410.79 L373.58 474.89 L381.46 410.79 L382.33 473.14 L390.65 412.97 L391.52 476.42 L399.4 412.97 L400.27 476.42 L404.2 449.07" fill="none" stroke="#7EB26D" stroke-width="1.1" stroke-opacity="0.9" stroke-linejoin="round"/>
<path d="M67.75 443.4 L160.01 443.4 L160.01 443.4 L160.01 477.1 L67.75 477.1 Z" fill="#EAB839" fill-opacity="0.1" stroke="none"/>
<path d="M162.4 385.5 L162.4 385.5 L175.9 385.5 L175.9 477.1 L162.4 477.1 Z" fill="#EAB839" fill-opacity="0.1" stroke="none"/>
<path d="M178.05 385.5 L233 385.5 L233.8 386.97 L242.01 386.97 L242.81 388.31 L251.02 388.31 L251.82 389.64 L260.03 389.64 L260.83 390.98 L269.04 390.98 L269.84 392.31 L278.05 392.31 L278.85 393.65 L287.06 393.65 L287.86 394.99 L296.07 394.99 L296.87 396.32 L305.08 396.32 L305.88 397.66 L314.09 397.66 L314.89 398.99 L323.11 398.99 L323.91 400.33 L332.12 400.33 L332.92 401.66 L341.13 401.66 L341.93 403 L350.14 403 L350.94 404.33 L359.15 404.33 L359.95 405.67 L368.16 405.67 L368.96 407.01 L377.17 407.01 L377.97 408.34 L386.18 408.34 L386.98 409.68 L395.19 409.68 L395.99 411.01 L404.2 411.01 L404.2 477.1 L178.05 477.1 Z" fill="#EAB839" fill-opacity="0.1" stroke="none"/>
<path d="M67.75 443.4 L160.01 443.4 L160.01 443.4" fill="none" stroke="#EAB839" stroke-width="1.1" stroke-opacity="0.9" stroke-linejoin="round"/>
<path d="M162.4 385.5 L162.4 385.5 L175.9 385.5" fill="none" stroke="#EAB839" stroke-width="1.1" stroke-opacity="0.9" stroke-linejoin="round"/>
<path d="M178.05 385.5 L233 385.5 L233.8 386.97 L242.01 386.97 L242.81 388.31 L251.02 388.31 L251.82 389.64 L260.03 389.64 L260.83 390.98 L269.04 390.98 L269.84 392.31 L278.05 392.31 L278.85 393.65 L287.06 393.65 L287.86 394.99 L296.07 394.99 L296.87 396.32 L305.08 396.32 L305.88 397.66 L314.09 397.66 L314.89 398.99 L323.11 398.99 L323.91 400.33 L332.12 400.33 L332.92 401.66 L341.13 401.66 L341.93 403 L350.14 403 L350.94 404.33 L359.15 404.33 L359.95 405.67 L368.16 405.67 L368.96 407.01 L377.17 407.01 L377.97 408.34 L386.18 408.34 L386.98 409.68 L395.19 409.68 L395.99 411.01 L404.2 411.01" fill="none" stroke="#EAB839" stroke-width="1.1" stroke-opacity="0.9" stroke-linejoin="round"/>
<path d="M67.75 382.5 L160.01 382.5 L160.01 382.5 L160.01 477.1 L67.75 477.1 Z" fill="#6ED0E0" fill-opacity="0.1" stroke="none"/>
<path d="M162.4 385.5 L162.4 385.5 L175.9 385.5 L175.9 477.1 L162.4 477.1 Z" fill="#6ED0E0" fill-opacity="0.1" stroke="none"/>
<path d="M178.05 385.5 L233 385.5 L234 384.9 L256 384.9 L257 385.3 L270 385.2 L271 384.6 L292 384.8 L293 385.2 L300 385.2 L301 384.7 L330 384.6 L360 384.4 L404.2 384.3 L404.2 477.1 L178.05 477.1 Z" fill="#6ED0E0" fill-opacity="0.1" stroke="none"/>
<path d="M67.75 382.5 L160.01 382.5 L160.01 382.5" fill="none" stroke="#6ED0E0" stroke-width="1.3" stroke-opacity="0.9" stroke-linejoin="round"/>
<path d="M162.4 385.5 L162.4 385.5 L175.9 385.5" fill="none" stroke="#6ED0E0" stroke-width="1.3" stroke-opacity="0.9" stroke-linejoin="round"/>
<path d="M178.05 385.5 L233 385.5 L234 384.9 L256 384.9 L257 385.3 L270 385.2 L271 384.6 L292 384.8 L293 385.2 L300 385.2 L301 384.7 L330 384.6 L360 384.4 L404.2 384.3" fill="none" stroke="#6ED0E0" stroke-width="1.3" stroke-opacity="0.9" stroke-linejoin="round"/>
<text x="103.02" y="493.3" text-anchor="middle" font-size="10.8" fill="#ccccdc" stroke="#ccccdc" stroke-width="0.18" letter-spacing="-0.24">13:30</text>
<text x="159.09" y="493.3" text-anchor="middle" font-size="10.8" fill="#ccccdc" stroke="#ccccdc" stroke-width="0.18" letter-spacing="-0.24">14:00</text>
<text x="215.17" y="493.3" text-anchor="middle" font-size="10.8" fill="#ccccdc" stroke="#ccccdc" stroke-width="0.18" letter-spacing="-0.24">14:30</text>
<text x="271.24" y="493.3" text-anchor="middle" font-size="10.8" fill="#ccccdc" stroke="#ccccdc" stroke-width="0.18" letter-spacing="-0.24">15:00</text>
<text x="327.32" y="493.3" text-anchor="middle" font-size="10.8" fill="#ccccdc" stroke="#ccccdc" stroke-width="0.18" letter-spacing="-0.24">15:30</text>
<text x="383.39" y="493.3" text-anchor="middle" font-size="10.8" fill="#ccccdc" stroke="#ccccdc" stroke-width="0.18" letter-spacing="-0.24">16:00</text>
<text x="62.86" y="374.4" text-anchor="end" font-size="10.8" fill="#ccccdc" stroke="#ccccdc" stroke-width="0.18" letter-spacing="-0.34">191 MiB</text>
<text x="63.03" y="401" text-anchor="end" font-size="10.8" fill="#ccccdc" stroke="#ccccdc" stroke-width="0.18" letter-spacing="-0.17">143 MiB</text>
<text x="63.2" y="427.6" text-anchor="end" font-size="10.8" fill="#ccccdc" stroke="#ccccdc" stroke-width="0.18">95.4 MiB</text>
<text x="63.2" y="454.2" text-anchor="end" font-size="10.8" fill="#ccccdc" stroke="#ccccdc" stroke-width="0.18">47.7 MiB</text>
<text x="63.2" y="480.9" text-anchor="end" font-size="10.8" fill="#ccccdc" stroke="#ccccdc" stroke-width="0.18">0 B</text></g>
<g><line x1="523.5" y1="370" x2="523.5" y2="477" stroke="#35383c"/>
<line x1="579.5" y1="370" x2="579.5" y2="477" stroke="#35383c"/>
<line x1="636.5" y1="370" x2="636.5" y2="477" stroke="#35383c"/>
<line x1="692.5" y1="370" x2="692.5" y2="477" stroke="#35383c"/>
<line x1="748.5" y1="370" x2="748.5" y2="477" stroke="#35383c"/>
<line x1="804.5" y1="370" x2="804.5" y2="477" stroke="#35383c"/>
<line x1="488.1" y1="370.5" x2="824.3" y2="370.5" stroke="#35383c"/>
<line x1="488.1" y1="405.5" x2="824.3" y2="405.5" stroke="#35383c"/>
<line x1="488.1" y1="441.5" x2="824.3" y2="441.5" stroke="#35383c"/>
<line x1="488.1" y1="477.5" x2="824.3" y2="477.5" stroke="#35383c"/>
<path d="M488.1 452.37 L520 452.37 L521 452.19 L560 452.08 L580.29 451.82 L580.29 451.82 L580.29 477 L488.1 477 Z" fill="#7EB26D" fill-opacity="0.1" stroke="none"/>
<path d="M582.68 460.2 L582.68 460.2 L584.5 460.2 L585.5 459.27 L596.17 459.27 L596.17 459.27 L596.17 477 L582.68 477 Z" fill="#7EB26D" fill-opacity="0.1" stroke="none"/>
<path d="M598.32 460.2 L598.32 460.2 L600 460.2 L600.6 459.64 L606 459.64 L608 457.78 L610.7 455.73 L622 455.73 L623 454.8 L700 454.42 L760 454.05 L824.3 453.68 L824.3 477 L598.32 477 Z" fill="#7EB26D" fill-opacity="0.1" stroke="none"/>
<path d="M488.1 452.37 L520 452.37 L521 452.19 L560 452.08 L580.29 451.82 L580.29 451.82" fill="none" stroke="#7EB26D" stroke-width="1.2" stroke-opacity="0.9" stroke-linejoin="round"/>
<path d="M582.68 460.2 L582.68 460.2 L584.5 460.2 L585.5 459.27 L596.17 459.27 L596.17 459.27" fill="none" stroke="#7EB26D" stroke-width="1.2" stroke-opacity="0.9" stroke-linejoin="round"/>
<path d="M598.32 460.2 L598.32 460.2 L600 460.2 L600.6 459.64 L606 459.64 L608 457.78 L610.7 455.73 L622 455.73 L623 454.8 L700 454.42 L760 454.05 L824.3 453.68" fill="none" stroke="#7EB26D" stroke-width="1.2" stroke-opacity="0.9" stroke-linejoin="round"/>
<path d="M488.1 385.5 L580.29 385.5 L580.29 477 L488.1 477 Z" fill="#EAB839" fill-opacity="0.1" stroke="none"/>
<path d="M582.68 385.5 L596.17 385.5 L596.17 385.5 L596.17 477 L582.68 477 Z" fill="#EAB839" fill-opacity="0.1" stroke="none"/>
<path d="M598.32 395.5 L598.32 395.5 L824.3 395.5 L824.3 477 L598.32 477 Z" fill="#EAB839" fill-opacity="0.1" stroke="none"/>
<path d="M488.1 385.5 L580.29 385.5" fill="none" stroke="#EAB839" stroke-width="1.0" stroke-opacity="0.9" stroke-linejoin="round"/>
<path d="M582.68 385.5 L596.17 385.5 L596.17 385.5" fill="none" stroke="#EAB839" stroke-width="1.0" stroke-opacity="0.9" stroke-linejoin="round"/>
<path d="M598.32 395.5 L598.32 395.5 L824.3 395.5" fill="none" stroke="#EAB839" stroke-width="1.0" stroke-opacity="0.9" stroke-linejoin="round"/>
<path d="M488.1 385.5 L580.29 385.5 L580.29 477 L488.1 477 Z" fill="#6ED0E0" fill-opacity="0.1" stroke="none"/>
<path d="M582.68 385.5 L596.17 385.5 L596.17 477 L582.68 477 Z" fill="#6ED0E0" fill-opacity="0.1" stroke="none"/>
<path d="M598.32 385.5 L824.3 385.5 L824.3 477 L598.32 477 Z" fill="#6ED0E0" fill-opacity="0.1" stroke="none"/>
<path d="M488.1 385.5 L580.29 385.5" fill="none" stroke="#6ED0E0" stroke-width="1.3" stroke-opacity="0.9" stroke-linejoin="round"/>
<path d="M582.68 385.5 L596.17 385.5" fill="none" stroke="#6ED0E0" stroke-width="1.3" stroke-opacity="0.9" stroke-linejoin="round"/>
<path d="M598.32 385.5 L824.3 385.5" fill="none" stroke="#6ED0E0" stroke-width="1.3" stroke-opacity="0.9" stroke-linejoin="round"/>
<text x="523.34" y="493.3" text-anchor="middle" font-size="10.8" fill="#ccccdc" stroke="#ccccdc" stroke-width="0.18" letter-spacing="-0.24">13:30</text>
<text x="579.37" y="493.3" text-anchor="middle" font-size="10.8" fill="#ccccdc" stroke="#ccccdc" stroke-width="0.18" letter-spacing="-0.24">14:00</text>
<text x="635.41" y="493.3" text-anchor="middle" font-size="10.8" fill="#ccccdc" stroke="#ccccdc" stroke-width="0.18" letter-spacing="-0.24">14:30</text>
<text x="691.44" y="493.3" text-anchor="middle" font-size="10.8" fill="#ccccdc" stroke="#ccccdc" stroke-width="0.18" letter-spacing="-0.24">15:00</text>
<text x="747.47" y="493.3" text-anchor="middle" font-size="10.8" fill="#ccccdc" stroke="#ccccdc" stroke-width="0.18" letter-spacing="-0.24">15:30</text>
<text x="803.51" y="493.3" text-anchor="middle" font-size="10.8" fill="#ccccdc" stroke="#ccccdc" stroke-width="0.18" letter-spacing="-0.24">16:00</text>
<text x="483.43" y="374.4" text-anchor="end" font-size="10.8" fill="#ccccdc" stroke="#ccccdc" stroke-width="0.18" letter-spacing="-0.17">381 MiB</text>
<text x="483.6" y="409.3" text-anchor="end" font-size="10.8" fill="#ccccdc" stroke="#ccccdc" stroke-width="0.18">286 MiB</text>
<text x="483.26" y="445" text-anchor="end" font-size="10.8" fill="#ccccdc" stroke="#ccccdc" stroke-width="0.18" letter-spacing="-0.34">191 MiB</text>
<text x="483.6" y="480.8" text-anchor="end" font-size="10.8" fill="#ccccdc" stroke="#ccccdc" stroke-width="0.18">95.4 MiB</text></g>
<g><line x1="944.5" y1="370" x2="944.5" y2="477" stroke="#35383c"/>
<line x1="1000.5" y1="370" x2="1000.5" y2="477" stroke="#35383c"/>
<line x1="1056.5" y1="370" x2="1056.5" y2="477" stroke="#35383c"/>
<line x1="1112.5" y1="370" x2="1112.5" y2="477" stroke="#35383c"/>
<line x1="1168.5" y1="370" x2="1168.5" y2="477" stroke="#35383c"/>
<line x1="1224.5" y1="370" x2="1224.5" y2="477" stroke="#35383c"/>
<line x1="908.8" y1="370.5" x2="1244.9" y2="370.5" stroke="#35383c"/>
<line x1="908.8" y1="397.5" x2="1244.9" y2="397.5" stroke="#35383c"/>
<line x1="908.8" y1="423.5" x2="1244.9" y2="423.5" stroke="#35383c"/>
<line x1="908.8" y1="450.5" x2="1244.9" y2="450.5" stroke="#35383c"/>
<line x1="908.8" y1="477.5" x2="1244.9" y2="477.5" stroke="#35383c"/>
<path d="M908.8 451.18 L916.06 451.18 L916.89 453.05 L923.74 453.05 L924.57 454.29 L931.43 454.29 L932.26 451.18 L939.32 451.18 L940.15 453.05 L945.14 453.05 L946.18 436.64 L952.2 436.64 L953.24 449.52 L960.51 449.52 L961.55 445.78 L967.99 445.78 L969.03 449.93 L975.47 449.93 L976.51 436.43 L981.28 436.43 L982.32 449.52 L989.18 449.93 L995.41 450.55 L1000.97 451.59 L1000.97 451.59 L1000.97 477 L908.8 477 Z" fill="#7EB26D" fill-opacity="0.1" stroke="none"/>
<path d="M1003.36 401.6 L1005.31 401.6 L1006.41 444.26 L1016.84 444.26 L1016.84 477 L1003.36 477 Z" fill="#7EB26D" fill-opacity="0.1" stroke="none"/>
<path d="M1018.98 404.38 L1019.1 399.85 L1019.75 448.42 L1026.75 448.42 L1027.85 418.44 L1028.5 418.44 L1029.6 419.97 L1029.38 419.97 L1030.47 395.47 L1043.16 395.47 L1044.26 467.67 L1055.63 467.67 L1056.73 461.76 L1064.82 461.76 L1065.91 432.66 L1074.23 432.66 L1075.32 430.91 L1081.88 430.91 L1082.98 432.66 L1090.2 432.66 L1091.29 416.91 L1096.54 416.91 L1097.64 400.29 L1104.85 400.29 L1105.95 421.07 L1113.17 421.07 L1114.26 419.1 L1121.26 419.1 L1122.36 416.91 L1131.11 416.91 L1132.2 419.97 L1138.33 419.97 L1139.42 408.16 L1145.76 408.16 L1146.86 427.19 L1156.7 427.19 L1157.8 430.04 L1185.8 430.04 L1186.89 429.82 L1194.55 429.82 L1195.64 428.73 L1204.4 428.73 L1205.49 427.19 L1213.15 427.19 L1214.24 422.38 L1221.9 422.38 L1222.99 430.04 L1230.65 430.04 L1231.74 442.07 L1239.4 442.07 L1240.49 443.16 L1244.87 443.16 L1244.87 477 L1018.98 477 Z" fill="#7EB26D" fill-opacity="0.1" stroke="none"/>
<path d="M908.8 451.18 L916.06 451.18 L916.89 453.05 L923.74 453.05 L924.57 454.29 L931.43 454.29 L932.26 451.18 L939.32 451.18 L940.15 453.05 L945.14 453.05 L946.18 436.64 L952.2 436.64 L953.24 449.52 L960.51 449.52 L961.55 445.78 L967.99 445.78 L969.03 449.93 L975.47 449.93 L976.51 436.43 L981.28 436.43 L982.32 449.52 L989.18 449.93 L995.41 450.55 L1000.97 451.59 L1000.97 451.59" fill="none" stroke="#7EB26D" stroke-width="1.2" stroke-opacity="0.9" stroke-linejoin="round"/>
<path d="M1003.36 401.6 L1005.31 401.6 L1006.41 444.26 L1016.84 444.26" fill="none" stroke="#7EB26D" stroke-width="1.2" stroke-opacity="0.9" stroke-linejoin="round"/>
<path d="M1018.98 404.38 L1019.1 399.85 L1019.75 448.42 L1026.75 448.42 L1027.85 418.44 L1028.5 418.44 L1029.6 419.97 L1029.38 419.97 L1030.47 395.47 L1043.16 395.47 L1044.26 467.67 L1055.63 467.67 L1056.73 461.76 L1064.82 461.76 L1065.91 432.66 L1074.23 432.66 L1075.32 430.91 L1081.88 430.91 L1082.98 432.66 L1090.2 432.66 L1091.29 416.91 L1096.54 416.91 L1097.64 400.29 L1104.85 400.29 L1105.95 421.07 L1113.17 421.07 L1114.26 419.1 L1121.26 419.1 L1122.36 416.91 L1131.11 416.91 L1132.2 419.97 L1138.33 419.97 L1139.42 408.16 L1145.76 408.16 L1146.86 427.19 L1156.7 427.19 L1157.8 430.04 L1185.8 430.04 L1186.89 429.82 L1194.55 429.82 L1195.64 428.73 L1204.4 428.73 L1205.49 427.19 L1213.15 427.19 L1214.24 422.38 L1221.9 422.38 L1222.99 430.04 L1230.65 430.04 L1231.74 442.07 L1239.4 442.07 L1240.49 443.16 L1244.87 443.16" fill="none" stroke="#7EB26D" stroke-width="1.2" stroke-opacity="0.9" stroke-linejoin="round"/>
<path d="M908.8 449.1 L945.14 449.1 L945.97 434.98 L952.41 434.98 L953.45 449.1 L960.51 449.1 L961.55 434.98 L967.99 434.98 L969.03 449.1 L975.47 449.1 L976.51 434.98 L982.11 434.98 L983.15 449.1 L1000.97 449.1 L1000.97 449.1 L1000.97 477 L908.8 477 Z" fill="#EAB839" fill-opacity="0.1" stroke="none"/>
<path d="M1003.36 393.28 L1004.88 393.28 L1005.97 378.63 L1016.84 378.63 L1016.84 477 L1003.36 477 Z" fill="#EAB839" fill-opacity="0.1" stroke="none"/>
<path d="M1018.98 391.79 L1019.1 393.28 L1019.53 393.28 L1020.63 378.63 L1027.19 378.63 L1028.28 393.28 L1043.16 393.28 L1044.26 378.63 L1073.57 378.63 L1074.66 420.63 L1090.2 420.63 L1091.29 407.07 L1096.54 407.07 L1097.64 393.28 L1104.85 393.28 L1105.95 420.63 L1113.17 420.63 L1114.26 407.07 L1146.42 407.07 L1147.51 420.63 L1231.3 420.63 L1232.4 435.51 L1244.87 435.51 L1244.87 477 L1018.98 477 Z" fill="#EAB839" fill-opacity="0.1" stroke="none"/>
<path d="M908.8 449.1 L945.14 449.1 L945.97 434.98 L952.41 434.98 L953.45 449.1 L960.51 449.1 L961.55 434.98 L967.99 434.98 L969.03 449.1 L975.47 449.1 L976.51 434.98 L982.11 434.98 L983.15 449.1 L1000.97 449.1 L1000.97 449.1 L1000.97 477 L908.8 477 Z" fill="#6ED0E0" fill-opacity="0.1" stroke="none"/>
<path d="M1003.36 393.28 L1004.88 393.28 L1005.97 378.63 L1016.84 378.63 L1016.84 477 L1003.36 477 Z" fill="#6ED0E0" fill-opacity="0.1" stroke="none"/>
<path d="M1018.98 391.79 L1019.1 393.28 L1019.53 393.28 L1020.63 378.63 L1027.19 378.63 L1028.28 393.28 L1043.16 393.28 L1044.26 378.63 L1073.57 378.63 L1074.66 420.63 L1090.2 420.63 L1091.29 407.07 L1096.54 407.07 L1097.64 393.28 L1104.85 393.28 L1105.95 420.63 L1113.17 420.63 L1114.26 407.07 L1146.42 407.07 L1147.51 420.63 L1231.3 420.63 L1232.4 435.51 L1244.87 435.51 L1244.87 477 L1018.98 477 Z" fill="#6ED0E0" fill-opacity="0.1" stroke="none"/>
<path d="M908.8 449.1 L945.14 449.1 L945.97 434.98 L952.41 434.98 L953.45 449.1 L960.51 449.1 L961.55 434.98 L967.99 434.98 L969.03 449.1 L975.47 449.1 L976.51 434.98 L982.11 434.98 L983.15 449.1 L1000.97 449.1 L1000.97 449.1" fill="none" stroke="#6ED0E0" stroke-width="1.25" stroke-opacity="0.9" stroke-linejoin="round"/>
<path d="M1003.36 393.28 L1004.88 393.28 L1005.97 378.63 L1016.84 378.63" fill="none" stroke="#6ED0E0" stroke-width="1.25" stroke-opacity="0.9" stroke-linejoin="round"/>
<path d="M1018.98 391.79 L1019.1 393.28 L1019.53 393.28 L1020.63 378.63 L1027.19 378.63 L1028.28 393.28 L1043.16 393.28 L1044.26 378.63 L1073.57 378.63 L1074.66 420.63 L1090.2 420.63 L1091.29 407.07 L1096.54 407.07 L1097.64 393.28 L1104.85 393.28 L1105.95 420.63 L1113.17 420.63 L1114.26 407.07 L1146.42 407.07 L1147.51 420.63 L1231.3 420.63 L1232.4 435.51 L1244.87 435.51" fill="none" stroke="#6ED0E0" stroke-width="1.25" stroke-opacity="0.9" stroke-linejoin="round"/>
<text x="944.03" y="493.3" text-anchor="middle" font-size="10.8" fill="#ccccdc" stroke="#ccccdc" stroke-width="0.18" letter-spacing="-0.24">13:30</text>
<text x="1000.05" y="493.3" text-anchor="middle" font-size="10.8" fill="#ccccdc" stroke="#ccccdc" stroke-width="0.18" letter-spacing="-0.24">14:00</text>
<text x="1056.06" y="493.3" text-anchor="middle" font-size="10.8" fill="#ccccdc" stroke="#ccccdc" stroke-width="0.18" letter-spacing="-0.24">14:30</text>
<text x="1112.08" y="493.3" text-anchor="middle" font-size="10.8" fill="#ccccdc" stroke="#ccccdc" stroke-width="0.18" letter-spacing="-0.24">15:00</text>
<text x="1168.1" y="493.3" text-anchor="middle" font-size="10.8" fill="#ccccdc" stroke="#ccccdc" stroke-width="0.18" letter-spacing="-0.24">15:30</text>
<text x="1224.11" y="493.3" text-anchor="middle" font-size="10.8" fill="#ccccdc" stroke="#ccccdc" stroke-width="0.18" letter-spacing="-0.24">16:00</text>
<text x="904.15" y="374.4" text-anchor="end" font-size="10.8" fill="#ccccdc" stroke="#ccccdc" stroke-width="0.18" letter-spacing="-0.15">3.81 MiB</text>
<text x="904.3" y="401" text-anchor="end" font-size="10.8" fill="#ccccdc" stroke="#ccccdc" stroke-width="0.18">2.86 MiB</text>
<text x="904" y="427.6" text-anchor="end" font-size="10.8" fill="#ccccdc" stroke="#ccccdc" stroke-width="0.18" letter-spacing="-0.3">1.91 MiB</text>
<text x="904.3" y="454.2" text-anchor="end" font-size="10.8" fill="#ccccdc" stroke="#ccccdc" stroke-width="0.18">977 KiB</text>
<text x="904.3" y="480.8" text-anchor="end" font-size="10.8" fill="#ccccdc" stroke="#ccccdc" stroke-width="0.18">0 B</text></g>
<g><line x1="103.5" y1="628" x2="103.5" y2="734.4" stroke="#35383c"/>
<line x1="159.5" y1="628" x2="159.5" y2="734.4" stroke="#35383c"/>
<line x1="216.5" y1="628" x2="216.5" y2="734.4" stroke="#35383c"/>
<line x1="272.5" y1="628" x2="272.5" y2="734.4" stroke="#35383c"/>
<line x1="328.5" y1="628" x2="328.5" y2="734.4" stroke="#35383c"/>
<line x1="384.5" y1="628" x2="384.5" y2="734.4" stroke="#35383c"/>
<line x1="68" y1="628.5" x2="404.4" y2="628.5" stroke="#35383c"/>
<line x1="68" y1="663.5" x2="404.4" y2="663.5" stroke="#35383c"/>
<line x1="68" y1="699.5" x2="404.4" y2="699.5" stroke="#35383c"/>
<line x1="68" y1="734.5" x2="404.4" y2="734.5" stroke="#35383c"/>
<path d="M68 707.9 L160.25 707.5 L160.25 707.5 L160.25 734.4 L68 734.4 Z" fill="#7EB26D" fill-opacity="0.1" stroke="none"/>
<path d="M162.64 720.5 L162.64 720.5 L176.13 718 L176.13 718 L176.13 734.4 L162.64 734.4 Z" fill="#7EB26D" fill-opacity="0.1" stroke="none"/>
<path d="M178.28 721.1 L178.28 721.1 L188.75 718 L190 716.5 L200 715.5 L220 714.5 L236 711.5 L255 710.7 L272 710.1 L305 708.8 L350 708.1 L404.4 707.5 L404.4 734.4 L178.28 734.4 Z" fill="#7EB26D" fill-opacity="0.1" stroke="none"/>
<path d="M68 707.9 L160.25 707.5 L160.25 707.5" fill="none" stroke="#7EB26D" stroke-width="0.8" stroke-opacity="0.9" stroke-linejoin="round"/>
<path d="M162.64 720.5 L162.64 720.5 L176.13 718 L176.13 718" fill="none" stroke="#7EB26D" stroke-width="0.8" stroke-opacity="0.9" stroke-linejoin="round"/>
<path d="M178.28 721.1 L178.28 721.1 L188.75 718 L190 716.5 L200 715.5 L220 714.5 L236 711.5 L255 710.7 L272 710.1 L305 708.8 L350 708.1 L404.4 707.5" fill="none" stroke="#7EB26D" stroke-width="0.8" stroke-opacity="0.9" stroke-linejoin="round"/>
<path d="M68 707.4 L160.25 707 L160.25 707 L160.25 734.4 L68 734.4 Z" fill="#EAB839" fill-opacity="0.1" stroke="none"/>
<path d="M162.64 720 L162.64 720 L176.13 717.5 L176.13 717.5 L176.13 734.4 L162.64 734.4 Z" fill="#EAB839" fill-opacity="0.1" stroke="none"/>
<path d="M178.28 720.6 L178.28 720.6 L188.75 717.5 L190 716 L200 715 L220 714 L236 711 L255 710.2 L272 709.6 L305 708.3 L350 707.6 L404.4 707 L404.4 734.4 L178.28 734.4 Z" fill="#EAB839" fill-opacity="0.1" stroke="none"/>
<path d="M68 707.4 L160.25 707 L160.25 707" fill="none" stroke="#EAB839" stroke-width="1.2" stroke-opacity="0.9" stroke-linejoin="round"/>
<path d="M162.64 720 L162.64 720 L176.13 717.5 L176.13 717.5" fill="none" stroke="#EAB839" stroke-width="1.2" stroke-opacity="0.9" stroke-linejoin="round"/>
<path d="M178.28 720.6 L178.28 720.6 L188.75 717.5 L190 716 L200 715 L220 714 L236 711 L255 710.2 L272 709.6 L305 708.3 L350 707.6 L404.4 707" fill="none" stroke="#EAB839" stroke-width="1.2" stroke-opacity="0.9" stroke-linejoin="round"/>
<path d="M68 645.27 L160.25 645.27 L160.25 734.4 L68 734.4 Z" fill="#6ED0E0" fill-opacity="0.1" stroke="none"/>
<path d="M162.64 645.27 L176.13 645.27 L176.13 734.4 L162.64 734.4 Z" fill="#6ED0E0" fill-opacity="0.1" stroke="none"/>
<path d="M178.28 645.27 L404.4 645.27 L404.4 734.4 L178.28 734.4 Z" fill="#6ED0E0" fill-opacity="0.1" stroke="none"/>
<path d="M68 645.27 L160.25 645.27" fill="none" stroke="#6ED0E0" stroke-width="1.2" stroke-opacity="0.9" stroke-linejoin="round"/>
<path d="M162.64 645.27 L176.13 645.27" fill="none" stroke="#6ED0E0" stroke-width="1.2" stroke-opacity="0.9" stroke-linejoin="round"/>
<path d="M178.28 645.27 L404.4 645.27" fill="none" stroke="#6ED0E0" stroke-width="1.2" stroke-opacity="0.9" stroke-linejoin="round"/>
<text x="63.2" y="632" text-anchor="end" font-size="10.8" fill="#ccccdc" stroke="#ccccdc" stroke-width="0.18">286 MiB</text>
<text x="62.86" y="667.4" text-anchor="end" font-size="10.8" fill="#ccccdc" stroke="#ccccdc" stroke-width="0.18" letter-spacing="-0.34">191 MiB</text>
<text x="63.2" y="702.8" text-anchor="end" font-size="10.8" fill="#ccccdc" stroke="#ccccdc" stroke-width="0.18">95.4 MiB</text>
<text x="63.2" y="738.2" text-anchor="end" font-size="10.8" fill="#ccccdc" stroke="#ccccdc" stroke-width="0.18">0 B</text></g>
<g><line x1="521.5" y1="628" x2="521.5" y2="734.4" stroke="#35383c"/>
<line x1="577.5" y1="628" x2="577.5" y2="734.4" stroke="#35383c"/>
<line x1="634.5" y1="628" x2="634.5" y2="734.4" stroke="#35383c"/>
<line x1="690.5" y1="628" x2="690.5" y2="734.4" stroke="#35383c"/>
<line x1="747.5" y1="628" x2="747.5" y2="734.4" stroke="#35383c"/>
<line x1="803.5" y1="628" x2="803.5" y2="734.4" stroke="#35383c"/>
<line x1="485.2" y1="628.5" x2="824.2" y2="628.5" stroke="#35383c"/>
<line x1="485.2" y1="663.5" x2="824.2" y2="663.5" stroke="#35383c"/>
<line x1="485.2" y1="699.5" x2="824.2" y2="699.5" stroke="#35383c"/>
<line x1="485.2" y1="734.5" x2="824.2" y2="734.5" stroke="#35383c"/>
<path d="M485.2 732.89 L578.16 732.87 L578.16 734.4 L485.2 734.4 Z" fill="#7EB26D" fill-opacity="0.1" stroke="none"/>
<path d="M580.57 732.87 L594.17 732.86 L594.17 734.4 L580.57 734.4 Z" fill="#7EB26D" fill-opacity="0.1" stroke="none"/>
<path d="M596.34 732.86 L824.2 732.81 L824.2 734.4 L596.34 734.4 Z" fill="#7EB26D" fill-opacity="0.1" stroke="none"/>
<path d="M485.2 732.89 L578.16 732.87" fill="none" stroke="#7EB26D" stroke-width="1.2" stroke-opacity="0.9" stroke-linejoin="round"/>
<path d="M580.57 732.87 L594.17 732.86" fill="none" stroke="#7EB26D" stroke-width="1.2" stroke-opacity="0.9" stroke-linejoin="round"/>
<path d="M596.34 732.86 L824.2 732.81" fill="none" stroke="#7EB26D" stroke-width="1.2" stroke-opacity="0.9" stroke-linejoin="round"/>
<path d="M485.2 732.74 L578.16 732.72 L578.16 734.4 L485.2 734.4 Z" fill="#EAB839" fill-opacity="0.1" stroke="none"/>
<path d="M580.57 732.72 L594.17 732.71 L594.17 734.4 L580.57 734.4 Z" fill="#EAB839" fill-opacity="0.1" stroke="none"/>
<path d="M596.34 732.71 L824.2 732.66 L824.2 734.4 L596.34 734.4 Z" fill="#EAB839" fill-opacity="0.1" stroke="none"/>
<path d="M485.2 732.74 L578.16 732.72" fill="none" stroke="#EAB839" stroke-width="1.2" stroke-opacity="0.9" stroke-linejoin="round"/>
<path d="M580.57 732.72 L594.17 732.71" fill="none" stroke="#EAB839" stroke-width="1.2" stroke-opacity="0.9" stroke-linejoin="round"/>
<path d="M596.34 732.71 L824.2 732.66" fill="none" stroke="#EAB839" stroke-width="1.2" stroke-opacity="0.9" stroke-linejoin="round"/>
<path d="M485.2 658.09 L578.16 658.09 L578.16 734.4 L485.2 734.4 Z" fill="#6ED0E0" fill-opacity="0.1" stroke="none"/>
<path d="M580.57 658.09 L594.17 658.09 L594.17 734.4 L580.57 734.4 Z" fill="#6ED0E0" fill-opacity="0.1" stroke="none"/>
<path d="M596.34 658.09 L824.2 658.09 L824.2 734.4 L596.34 734.4 Z" fill="#6ED0E0" fill-opacity="0.1" stroke="none"/>
<path d="M485.2 658.09 L578.16 658.09" fill="none" stroke="#6ED0E0" stroke-width="1.2" stroke-opacity="0.9" stroke-linejoin="round"/>
<path d="M580.57 658.09 L594.17 658.09" fill="none" stroke="#6ED0E0" stroke-width="1.2" stroke-opacity="0.9" stroke-linejoin="round"/>
<path d="M596.34 658.09 L824.2 658.09" fill="none" stroke="#6ED0E0" stroke-width="1.2" stroke-opacity="0.9" stroke-linejoin="round"/>
<text x="481.15" y="632" text-anchor="end" font-size="10.8" fill="#ccccdc" stroke="#ccccdc" stroke-width="0.18" letter-spacing="-0.15">1.40 GiB</text>
<text x="481.3" y="667.4" text-anchor="end" font-size="10.8" fill="#ccccdc" stroke="#ccccdc" stroke-width="0.18">954 MiB</text>
<text x="481.3" y="702.8" text-anchor="end" font-size="10.8" fill="#ccccdc" stroke="#ccccdc" stroke-width="0.18">477 MiB</text>
<text x="481.3" y="738.2" text-anchor="end" font-size="10.8" fill="#ccccdc" stroke="#ccccdc" stroke-width="0.18">0 B</text></g>
<g><line x1="947.5" y1="628" x2="947.5" y2="713.2" stroke="#35383c"/>
<line x1="1002.5" y1="628" x2="1002.5" y2="713.2" stroke="#35383c"/>
<line x1="1058.5" y1="628" x2="1058.5" y2="713.2" stroke="#35383c"/>
<line x1="1113.5" y1="628" x2="1113.5" y2="713.2" stroke="#35383c"/>
<line x1="1169.5" y1="628" x2="1169.5" y2="713.2" stroke="#35383c"/>
<line x1="1224.5" y1="628" x2="1224.5" y2="713.2" stroke="#35383c"/>
<line x1="911.7" y1="628.5" x2="1244.7" y2="628.5" stroke="#35383c"/>
<line x1="911.7" y1="649.5" x2="1244.7" y2="649.5" stroke="#35383c"/>
<line x1="911.7" y1="670.5" x2="1244.7" y2="670.5" stroke="#35383c"/>
<line x1="911.7" y1="691.5" x2="1244.7" y2="691.5" stroke="#35383c"/>
<line x1="911.7" y1="713.5" x2="1244.7" y2="713.5" stroke="#35383c"/>
<path d="M911.7 647.62 L1003.02 647.53 L1003.02 647.53 L1003.02 713.2 L911.7 713.2 Z" fill="#7EB26D" fill-opacity="0.1" stroke="none"/>
<path d="M1005.38 657.96 L1005.38 657.96 L1018.74 657.29 L1018.74 657.29 L1018.74 713.2 L1005.38 713.2 Z" fill="#7EB26D" fill-opacity="0.1" stroke="none"/>
<path d="M1020.87 657.74 L1020.87 657.74 L1028.8 657.29 L1029.6 653.5 L1031 653.06 L1032 649.58 L1050 648.83 L1079.7 647.94 L1128.9 647.04 L1170 646.6 L1244.7 646.29 L1244.7 713.2 L1020.87 713.2 Z" fill="#7EB26D" fill-opacity="0.1" stroke="none"/>
<path d="M911.7 647.62 L1003.02 647.53 L1003.02 647.53" fill="none" stroke="#7EB26D" stroke-width="1.2" stroke-opacity="0.9" stroke-linejoin="round"/>
<path d="M1005.38 657.96 L1005.38 657.96 L1018.74 657.29 L1018.74 657.29" fill="none" stroke="#7EB26D" stroke-width="1.2" stroke-opacity="0.9" stroke-linejoin="round"/>
<path d="M1020.87 657.74 L1020.87 657.74 L1028.8 657.29 L1029.6 653.5 L1031 653.06 L1032 649.58 L1050 648.83 L1079.7 647.94 L1128.9 647.04 L1170 646.6 L1244.7 646.29" fill="none" stroke="#7EB26D" stroke-width="1.2" stroke-opacity="0.9" stroke-linejoin="round"/>
<path d="M911.7 643.48 L1003.02 643.26 L1003.02 643.26 L1003.02 713.2 L911.7 713.2 Z" fill="#EAB839" fill-opacity="0.1" stroke="none"/>
<path d="M1005.38 655.06 L1005.38 655.06 L1018.74 654.4 L1018.74 654.4 L1018.74 713.2 L1005.38 713.2 Z" fill="#EAB839" fill-opacity="0.1" stroke="none"/>
<path d="M1020.87 654.84 L1020.87 654.84 L1028.8 654.4 L1029.6 650.83 L1031 650.39 L1032 647.27 L1050 646.38 L1075 645.49 L1079.7 644.59 L1100 643.7 L1128.9 642.68 L1170 642.14 L1244.7 641.7 L1244.7 713.2 L1020.87 713.2 Z" fill="#EAB839" fill-opacity="0.1" stroke="none"/>
<path d="M911.7 643.48 L1003.02 643.26 L1003.02 643.26" fill="none" stroke="#EAB839" stroke-width="1.2" stroke-opacity="0.9" stroke-linejoin="round"/>
<path d="M1005.38 655.06 L1005.38 655.06 L1018.74 654.4 L1018.74 654.4" fill="none" stroke="#EAB839" stroke-width="1.2" stroke-opacity="0.9" stroke-linejoin="round"/>
<path d="M1020.87 654.84 L1020.87 654.84 L1028.8 654.4 L1029.6 650.83 L1031 650.39 L1032 647.27 L1050 646.38 L1075 645.49 L1079.7 644.59 L1100 643.7 L1128.9 642.68 L1170 642.14 L1244.7 641.7" fill="none" stroke="#EAB839" stroke-width="1.2" stroke-opacity="0.9" stroke-linejoin="round"/>
<path d="M911.7 713.2 L1003.02 713.2 L1003.02 713.2 L911.7 713.2 Z" fill="#6ED0E0" fill-opacity="0.1" stroke="none"/>
<path d="M1005.38 713.2 L1018.74 713.2 L1018.74 713.2 L1005.38 713.2 Z" fill="#6ED0E0" fill-opacity="0.1" stroke="none"/>
<path d="M1020.87 713.2 L1244.7 713.2 L1244.7 713.2 L1020.87 713.2 Z" fill="#6ED0E0" fill-opacity="0.1" stroke="none"/>
<path d="M911.7 713.2 L1003.02 713.2" fill="none" stroke="#6ED0E0" stroke-width="1.2" stroke-opacity="0.9" stroke-linejoin="round"/>
<path d="M1005.38 713.2 L1018.74 713.2" fill="none" stroke="#6ED0E0" stroke-width="1.2" stroke-opacity="0.9" stroke-linejoin="round"/>
<path d="M1020.87 713.2 L1244.7 713.2" fill="none" stroke="#6ED0E0" stroke-width="1.2" stroke-opacity="0.9" stroke-linejoin="round"/>
<text x="946.6" y="730" text-anchor="middle" font-size="10.8" fill="#ccccdc" stroke="#ccccdc" stroke-width="0.18" letter-spacing="-0.24">13:30</text>
<text x="1002.1" y="730" text-anchor="middle" font-size="10.8" fill="#ccccdc" stroke="#ccccdc" stroke-width="0.18" letter-spacing="-0.24">14:00</text>
<text x="1057.6" y="730" text-anchor="middle" font-size="10.8" fill="#ccccdc" stroke="#ccccdc" stroke-width="0.18" letter-spacing="-0.24">14:30</text>
<text x="1113.1" y="730" text-anchor="middle" font-size="10.8" fill="#ccccdc" stroke="#ccccdc" stroke-width="0.18" letter-spacing="-0.24">15:00</text>
<text x="1168.6" y="730" text-anchor="middle" font-size="10.8" fill="#ccccdc" stroke="#ccccdc" stroke-width="0.18" letter-spacing="-0.24">15:30</text>
<text x="1224.1" y="730" text-anchor="middle" font-size="10.8" fill="#ccccdc" stroke="#ccccdc" stroke-width="0.18" letter-spacing="-0.24">16:00</text>
<text x="906.66" y="632" text-anchor="end" font-size="10.8" fill="#ccccdc" stroke="#ccccdc" stroke-width="0.18" letter-spacing="-0.34">191 MiB</text>
<text x="906.83" y="653.2" text-anchor="end" font-size="10.8" fill="#ccccdc" stroke="#ccccdc" stroke-width="0.18" letter-spacing="-0.17">143 MiB</text>
<text x="907" y="674.5" text-anchor="end" font-size="10.8" fill="#ccccdc" stroke="#ccccdc" stroke-width="0.18">95.4 MiB</text>
<text x="907" y="695.7" text-anchor="end" font-size="10.8" fill="#ccccdc" stroke="#ccccdc" stroke-width="0.18">47.7 MiB</text>
<text x="907" y="717" text-anchor="end" font-size="10.8" fill="#ccccdc" stroke="#ccccdc" stroke-width="0.18">0 B</text></g>
</svg>
<div style="position:absolute;left:20.5px;top:238.8px;width:608.4px;height:1px;background:#25282d"></div>
<div style="position:absolute;left:20.5px;top:258.8px;width:608.4px;height:1px;background:#25282d"></div>
<div style="position:absolute;left:20.5px;top:279.5px;width:608.4px;height:1px;background:#25282d"></div>
<div style="position:absolute;left:651.1px;top:238.8px;width:608.4px;height:1px;background:#25282d"></div>
<div style="position:absolute;left:651.1px;top:258.8px;width:608.4px;height:1px;background:#25282d"></div>
<div style="position:absolute;left:651.1px;top:279.5px;width:608.4px;height:1px;background:#25282d"></div>
<div class="t" style="top:221.4px;font-size:10.8px;color:#6e9fff;line-height:16px;height:16px;-webkit-text-stroke:0.35px #6e9fff;letter-spacing:0.2px;left:45px;">Name</div>
<div class="t" style="top:221.4px;font-size:10.8px;color:#6e9fff;line-height:16px;height:16px;-webkit-text-stroke:0.35px #6e9fff;letter-spacing:0.2px;right:823.2px;margin-right:0.2px;">Mean</div>
<div class="t" style="top:221.4px;font-size:10.8px;color:#6e9fff;line-height:16px;height:16px;-webkit-text-stroke:0.35px #6e9fff;letter-spacing:0.2px;right:761.7px;margin-right:0.2px;">Last *</div>
<div class="t" style="top:221.4px;font-size:10.8px;color:#6e9fff;line-height:16px;height:16px;-webkit-text-stroke:0.35px #6e9fff;letter-spacing:0.2px;right:708.7px;margin-right:0.2px;">Max</div>
<div class="t" style="top:221.4px;font-size:10.8px;color:#6e9fff;line-height:16px;height:16px;-webkit-text-stroke:0.35px #6e9fff;letter-spacing:0.2px;right:658.2px;margin-right:0.2px;">Min</div>
<div style="position:absolute;left:27px;top:247.8px;width:12px;height:3.6px;border-radius:2px;background:#73BF69"></div>
<div class="t" style="top:241.6px;font-size:10.8px;color:#ccccdc;line-height:16px;height:16px;-webkit-text-stroke:0.18px #ccccdc;letter-spacing:-0.19px;left:45.8px;">System CPU Usage（系统CPU使用率）</div>
<div class="t" style="top:241.6px;font-size:10.8px;color:#ccccdc;line-height:16px;height:16px;-webkit-text-stroke:0.18px #ccccdc;right:823.2px;">7.72%</div>
<div class="t" style="top:241.6px;font-size:10.8px;color:#ccccdc;line-height:16px;height:16px;-webkit-text-stroke:0.18px #ccccdc;right:761.7px;">2.23%</div>
<div class="t" style="top:241.6px;font-size:10.8px;color:#ccccdc;line-height:16px;height:16px;-webkit-text-stroke:0.18px #ccccdc;letter-spacing:-0.3px;right:708.7px;margin-right:-0.3px;">100%</div>
<div class="t" style="top:241.6px;font-size:10.8px;color:#ccccdc;line-height:16px;height:16px;-webkit-text-stroke:0.18px #ccccdc;right:658.2px;">0%</div>
<div style="position:absolute;left:27px;top:267.8px;width:12px;height:3.6px;border-radius:2px;background:#FADE2A"></div>
<div class="t" style="top:261.6px;font-size:10.8px;color:#ccccdc;line-height:16px;height:16px;-webkit-text-stroke:0.18px #ccccdc;letter-spacing:-0.14px;left:45.8px;">Process CPU Usage（进程cpu使用率）</div>
<div class="t" style="top:261.6px;font-size:10.8px;color:#ccccdc;line-height:16px;height:16px;-webkit-text-stroke:0.18px #ccccdc;letter-spacing:-0.2px;right:823.2px;margin-right:-0.2px;">0.129%</div>
<div class="t" style="top:261.6px;font-size:10.8px;color:#ccccdc;line-height:16px;height:16px;-webkit-text-stroke:0.18px #ccccdc;right:761.7px;">0.0669%</div>
<div class="t" style="top:261.6px;font-size:10.8px;color:#ccccdc;line-height:16px;height:16px;-webkit-text-stroke:0.18px #ccccdc;right:708.7px;">5.36%</div>
<div class="t" style="top:261.6px;font-size:10.8px;color:#ccccdc;line-height:16px;height:16px;-webkit-text-stroke:0.18px #ccccdc;right:658.2px;">0%</div>
<div class="t" style="top:221.4px;font-size:10.8px;color:#6e9fff;line-height:16px;height:16px;-webkit-text-stroke:0.35px #6e9fff;letter-spacing:0.2px;left:675.6px;">Name</div>
<div class="t" style="top:221.4px;font-size:10.8px;color:#6e9fff;line-height:16px;height:16px;-webkit-text-stroke:0.35px #6e9fff;letter-spacing:0.2px;right:192.5px;margin-right:0.2px;">Mean</div>
<div class="t" style="top:221.4px;font-size:10.8px;color:#6e9fff;line-height:16px;height:16px;-webkit-text-stroke:0.35px #6e9fff;letter-spacing:0.2px;right:131.1px;margin-right:0.2px;">Last *</div>
<div class="t" style="top:221.4px;font-size:10.8px;color:#6e9fff;line-height:16px;height:16px;-webkit-text-stroke:0.35px #6e9fff;letter-spacing:0.2px;right:77.7px;margin-right:0.2px;">Max</div>
<div class="t" style="top:221.4px;font-size:10.8px;color:#6e9fff;line-height:16px;height:16px;-webkit-text-stroke:0.35px #6e9fff;letter-spacing:0.2px;right:27.5px;margin-right:0.2px;">Min</div>
<div style="position:absolute;left:657.6px;top:247.8px;width:12px;height:3.6px;border-radius:2px;background:#73BF69"></div>
<div class="t" style="top:241.6px;font-size:10.8px;color:#ccccdc;line-height:16px;height:16px;-webkit-text-stroke:0.18px #ccccdc;letter-spacing:-0.04px;left:676.4px;">Load Average [1m](1分钟系统负载)</div>
<div class="t" style="top:241.6px;font-size:10.8px;color:#ccccdc;line-height:16px;height:16px;-webkit-text-stroke:0.18px #ccccdc;letter-spacing:-0.59px;right:192.5px;margin-right:-0.59px;">1.01</div>
<div class="t" style="top:241.6px;font-size:10.8px;color:#ccccdc;line-height:16px;height:16px;-webkit-text-stroke:0.18px #ccccdc;letter-spacing:-0.24px;right:131.1px;margin-right:-0.24px;">0.210</div>
<div class="t" style="top:241.6px;font-size:10.8px;color:#ccccdc;line-height:16px;height:16px;-webkit-text-stroke:0.18px #ccccdc;letter-spacing:-0.3px;right:77.7px;margin-right:-0.3px;">21.3</div>
<div class="t" style="top:241.6px;font-size:10.8px;color:#ccccdc;line-height:16px;height:16px;-webkit-text-stroke:0.18px #ccccdc;right:27.5px;">0</div>
<div style="position:absolute;left:657.6px;top:267.8px;width:12px;height:3.6px;border-radius:2px;background:#F2495C"></div>
<div class="t" style="top:261.6px;font-size:10.8px;color:#ccccdc;line-height:16px;height:16px;-webkit-text-stroke:0.18px #ccccdc;letter-spacing:-0.2px;left:676.4px;">CPU Core Size（CPU核数）</div>
<div class="t" style="top:261.6px;font-size:10.8px;color:#ccccdc;line-height:16px;height:16px;-webkit-text-stroke:0.18px #ccccdc;right:192.5px;">8</div>
<div class="t" style="top:261.6px;font-size:10.8px;color:#ccccdc;line-height:16px;height:16px;-webkit-text-stroke:0.18px #ccccdc;right:131.1px;">8</div>
<div class="t" style="top:261.6px;font-size:10.8px;color:#ccccdc;line-height:16px;height:16px;-webkit-text-stroke:0.18px #ccccdc;right:77.7px;">8</div>
<div class="t" style="top:261.6px;font-size:10.8px;color:#ccccdc;line-height:16px;height:16px;-webkit-text-stroke:0.18px #ccccdc;right:27.5px;">8</div>
<div style="position:absolute;left:24.8px;top:542px;width:389.5px;height:22.5px;background:#22252b"></div>
<div class="t" style="top:502px;font-size:10.8px;color:#4a9de0;line-height:16px;height:16px;-webkit-text-stroke:0.35px #4a9de0;letter-spacing:0.15px;right:1041.4px;margin-right:0.15px;">min</div>
<div class="t" style="top:502px;font-size:10.8px;color:#4a9de0;line-height:16px;height:16px;-webkit-text-stroke:0.35px #4a9de0;letter-spacing:0.15px;right:988px;margin-right:0.15px;">max</div>
<div class="t" style="top:502px;font-size:10.8px;color:#4a9de0;line-height:16px;height:16px;-webkit-text-stroke:0.35px #4a9de0;letter-spacing:0.15px;right:930px;margin-right:0.15px;">avg</div>
<div class="t" style="top:502px;font-size:10.8px;color:#4a9de0;line-height:16px;height:16px;-webkit-text-stroke:0.35px #4a9de0;letter-spacing:0.15px;right:874.2px;margin-right:0.15px;">current</div>
<div style="position:absolute;left:26.4px;top:528.6px;width:12px;height:3.6px;border-radius:2px;background:#7EB26D"></div>
<div class="t" style="top:522.2px;font-size:10.8px;color:#ccccdc;line-height:16px;height:16px;-webkit-text-stroke:0.18px #ccccdc;left:46.7px;">Used</div>
<div class="t" style="top:522.2px;font-size:10.8px;color:#ccccdc;line-height:16px;height:16px;-webkit-text-stroke:0.18px #ccccdc;letter-spacing:-0.17px;right:1034.9px;margin-right:-0.17px;">155 KiB</div>
<div class="t" style="top:522.2px;font-size:10.8px;color:#ccccdc;line-height:16px;height:16px;-webkit-text-stroke:0.18px #ccccdc;letter-spacing:-0.17px;right:981px;margin-right:-0.17px;">163 MiB</div>
<div class="t" style="top:522.2px;font-size:10.8px;color:#ccccdc;line-height:16px;height:16px;-webkit-text-stroke:0.18px #ccccdc;right:923.7px;">60.6 MiB</div>
<div class="t" style="top:522.2px;font-size:10.8px;color:#ccccdc;line-height:16px;height:16px;-webkit-text-stroke:0.18px #ccccdc;letter-spacing:-0.15px;right:867.6px;margin-right:-0.15px;">51.0 MiB</div>
<div style="position:absolute;left:26.4px;top:551.5px;width:12px;height:3.6px;border-radius:2px;background:#EAB839"></div>
<div class="t" style="top:545.1px;font-size:10.8px;color:#ccccdc;line-height:16px;height:16px;-webkit-text-stroke:0.18px #ccccdc;left:46.7px;">Commited</div>
<div class="t" style="top:545.1px;font-size:10.8px;color:#ccccdc;line-height:16px;height:16px;-webkit-text-stroke:0.18px #ccccdc;letter-spacing:-0.2px;right:1034.9px;margin-right:-0.2px;">61 MiB</div>
<div class="t" style="top:545.1px;font-size:10.8px;color:#ccccdc;line-height:16px;height:16px;-webkit-text-stroke:0.18px #ccccdc;letter-spacing:-0.17px;right:981px;margin-right:-0.17px;">165 MiB</div>
<div class="t" style="top:545.1px;font-size:10.8px;color:#ccccdc;line-height:16px;height:16px;-webkit-text-stroke:0.18px #ccccdc;letter-spacing:-0.34px;right:923.7px;margin-right:-0.34px;">121 MiB</div>
<div class="t" style="top:545.1px;font-size:10.8px;color:#ccccdc;line-height:16px;height:16px;-webkit-text-stroke:0.18px #ccccdc;letter-spacing:-0.34px;right:867.6px;margin-right:-0.34px;">118 MiB</div>
<div style="position:absolute;left:445px;top:542px;width:389.5px;height:22.5px;background:#22252b"></div>
<div class="t" style="top:502px;font-size:10.8px;color:#4a9de0;line-height:16px;height:16px;-webkit-text-stroke:0.35px #4a9de0;letter-spacing:0.15px;right:621.2px;margin-right:0.15px;">min</div>
<div class="t" style="top:502px;font-size:10.8px;color:#4a9de0;line-height:16px;height:16px;-webkit-text-stroke:0.35px #4a9de0;letter-spacing:0.15px;right:567.8px;margin-right:0.15px;">max</div>
<div class="t" style="top:502px;font-size:10.8px;color:#4a9de0;line-height:16px;height:16px;-webkit-text-stroke:0.35px #4a9de0;letter-spacing:0.15px;right:509.8px;margin-right:0.15px;">avg</div>
<div class="t" style="top:502px;font-size:10.8px;color:#4a9de0;line-height:16px;height:16px;-webkit-text-stroke:0.35px #4a9de0;letter-spacing:0.15px;right:454px;margin-right:0.15px;">current</div>
<div style="position:absolute;left:446.6px;top:528.6px;width:12px;height:3.6px;border-radius:2px;background:#7EB26D"></div>
<div class="t" style="top:522.2px;font-size:10.8px;color:#ccccdc;line-height:16px;height:16px;-webkit-text-stroke:0.18px #ccccdc;left:466.9px;">Used</div>
<div class="t" style="top:522.2px;font-size:10.8px;color:#ccccdc;line-height:16px;height:16px;-webkit-text-stroke:0.18px #ccccdc;letter-spacing:-0.17px;right:614.7px;margin-right:-0.17px;">140 MiB</div>
<div class="t" style="top:522.2px;font-size:10.8px;color:#ccccdc;line-height:16px;height:16px;-webkit-text-stroke:0.18px #ccccdc;letter-spacing:-0.17px;right:560.8px;margin-right:-0.17px;">164 MiB</div>
<div class="t" style="top:522.2px;font-size:10.8px;color:#ccccdc;line-height:16px;height:16px;-webkit-text-stroke:0.18px #ccccdc;letter-spacing:-0.17px;right:503.5px;margin-right:-0.17px;">157 MiB</div>
<div class="t" style="top:522.2px;font-size:10.8px;color:#ccccdc;line-height:16px;height:16px;-webkit-text-stroke:0.18px #ccccdc;letter-spacing:-0.17px;right:447.4px;margin-right:-0.17px;">158 MiB</div>
<div style="position:absolute;left:446.6px;top:551.5px;width:12px;height:3.6px;border-radius:2px;background:#EAB839"></div>
<div class="t" style="top:545.1px;font-size:10.8px;color:#ccccdc;line-height:16px;height:16px;-webkit-text-stroke:0.18px #ccccdc;left:466.9px;">Commited</div>
<div class="t" style="top:545.1px;font-size:10.8px;color:#ccccdc;line-height:16px;height:16px;-webkit-text-stroke:0.18px #ccccdc;letter-spacing:-0.17px;right:614.7px;margin-right:-0.17px;">315 MiB</div>
<div class="t" style="top:545.1px;font-size:10.8px;color:#ccccdc;line-height:16px;height:16px;-webkit-text-stroke:0.18px #ccccdc;right:560.8px;">342 MiB</div>
<div class="t" style="top:545.1px;font-size:10.8px;color:#ccccdc;line-height:16px;height:16px;-webkit-text-stroke:0.18px #ccccdc;right:503.5px;">323 MiB</div>
<div class="t" style="top:545.1px;font-size:10.8px;color:#ccccdc;line-height:16px;height:16px;-webkit-text-stroke:0.18px #ccccdc;letter-spacing:-0.17px;right:447.4px;margin-right:-0.17px;">315 MiB</div>
<div style="position:absolute;left:865.4px;top:542px;width:389.5px;height:22.5px;background:#22252b"></div>
<div class="t" style="top:502px;font-size:10.8px;color:#4a9de0;line-height:16px;height:16px;-webkit-text-stroke:0.35px #4a9de0;letter-spacing:0.15px;right:200.8px;margin-right:0.15px;">min</div>
<div class="t" style="top:502px;font-size:10.8px;color:#4a9de0;line-height:16px;height:16px;-webkit-text-stroke:0.35px #4a9de0;letter-spacing:0.15px;right:147.4px;margin-right:0.15px;">max</div>
<div class="t" style="top:502px;font-size:10.8px;color:#4a9de0;line-height:16px;height:16px;-webkit-text-stroke:0.35px #4a9de0;letter-spacing:0.15px;right:89.4px;margin-right:0.15px;">avg</div>
<div class="t" style="top:502px;font-size:10.8px;color:#4a9de0;line-height:16px;height:16px;-webkit-text-stroke:0.35px #4a9de0;letter-spacing:0.15px;right:33.6px;margin-right:0.15px;">current</div>
<div style="position:absolute;left:867px;top:528.6px;width:12px;height:3.6px;border-radius:2px;background:#7EB26D"></div>
<div class="t" style="top:522.2px;font-size:10.8px;color:#ccccdc;line-height:16px;height:16px;-webkit-text-stroke:0.18px #ccccdc;left:887.3px;">Used</div>
<div class="t" style="top:522.2px;font-size:10.8px;color:#ccccdc;line-height:16px;height:16px;-webkit-text-stroke:0.18px #ccccdc;right:194.3px;">352 KiB</div>
<div class="t" style="top:522.2px;font-size:10.8px;color:#ccccdc;line-height:16px;height:16px;-webkit-text-stroke:0.18px #ccccdc;right:140.4px;">2.92 MiB</div>
<div class="t" style="top:522.2px;font-size:10.8px;color:#ccccdc;line-height:16px;height:16px;-webkit-text-stroke:0.18px #ccccdc;letter-spacing:-0.15px;right:83.1px;margin-right:-0.15px;">1.53 MiB</div>
<div class="t" style="top:522.2px;font-size:10.8px;color:#ccccdc;line-height:16px;height:16px;-webkit-text-stroke:0.18px #ccccdc;letter-spacing:-0.15px;right:27px;margin-right:-0.15px;">1.22 MiB</div>
<div style="position:absolute;left:867px;top:551.5px;width:12px;height:3.6px;border-radius:2px;background:#EAB839"></div>
<div class="t" style="top:545.1px;font-size:10.8px;color:#ccccdc;line-height:16px;height:16px;-webkit-text-stroke:0.18px #ccccdc;left:887.3px;">Commited</div>
<div class="t" style="top:545.1px;font-size:10.8px;color:#ccccdc;line-height:16px;height:16px;-webkit-text-stroke:0.18px #ccccdc;letter-spacing:-0.24px;right:194.3px;margin-right:-0.24px;">1 MiB</div>
<div class="t" style="top:545.1px;font-size:10.8px;color:#ccccdc;line-height:16px;height:16px;-webkit-text-stroke:0.18px #ccccdc;right:140.4px;">3.50 MiB</div>
<div class="t" style="top:545.1px;font-size:10.8px;color:#ccccdc;line-height:16px;height:16px;-webkit-text-stroke:0.18px #ccccdc;letter-spacing:-0.15px;right:83.1px;margin-right:-0.15px;">2.10 MiB</div>
<div class="t" style="top:545.1px;font-size:10.8px;color:#ccccdc;line-height:16px;height:16px;-webkit-text-stroke:0.18px #ccccdc;letter-spacing:-0.15px;right:27px;margin-right:-0.15px;">1.50 MiB</div>
</div>
</body></html>
